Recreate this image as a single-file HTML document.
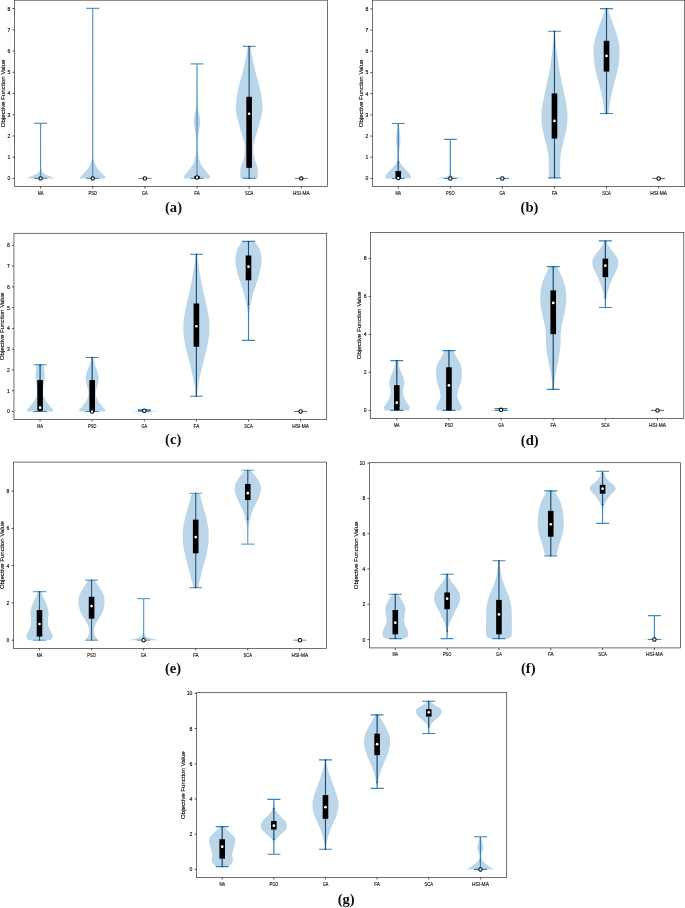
<!DOCTYPE html>
<html><head><meta charset="utf-8"><title>Violin plots</title>
<style>
html,body{margin:0;padding:0;background:#fff;}
body{width:685px;height:908px;overflow:hidden;font-family:"Liberation Sans",sans-serif;}
svg{display:block;will-change:transform;}
</style></head><body>
<svg width="685" height="908" viewBox="0 0 685 908">
<rect width="685" height="908" fill="#fff"/>
<g>
<polygon points="27.6,178.4 27.67,178.29 27.74,178.18 27.83,178.07 27.93,177.96 28.06,177.85 28.21,177.74 28.39,177.63 28.6,177.52 28.85,177.35 29.13,177.19 29.44,177.02 29.77,176.86 30.12,176.69 30.5,176.53 30.89,176.36 31.3,176.2 31.74,176 32.22,175.81 32.72,175.62 33.24,175.43 33.77,175.23 34.27,175.04 34.76,174.85 35.2,174.66 35.61,174.44 36.01,174.22 36.38,174 36.74,173.78 37.09,173.56 37.41,173.34 37.71,173.12 38,172.9 38.26,172.62 38.51,172.35 38.73,172.07 38.94,171.8 39.13,171.52 39.3,171.25 39.46,170.97 39.6,170.7 39.73,170.28 39.83,169.87 39.92,169.46 39.99,169.05 40.05,168.64 40.1,168.22 40.15,167.81 40.2,167.4 40.25,161.89 40.28,156.38 40.31,150.86 40.34,145.35 40.36,139.84 40.37,134.33 40.39,128.82 40.4,123.3 40.8,123.3 40.81,128.82 40.83,134.33 40.84,139.84 40.86,145.35 40.89,150.86 40.92,156.38 40.95,161.89 41,167.4 41.05,167.81 41.1,168.22 41.15,168.64 41.21,169.05 41.28,169.46 41.37,169.87 41.47,170.28 41.6,170.7 41.74,170.97 41.9,171.25 42.07,171.52 42.26,171.8 42.47,172.07 42.69,172.35 42.94,172.62 43.2,172.9 43.49,173.12 43.79,173.34 44.11,173.56 44.46,173.78 44.82,174 45.19,174.22 45.59,174.44 46,174.66 46.44,174.85 46.93,175.04 47.43,175.23 47.96,175.43 48.48,175.62 48.98,175.81 49.46,176 49.9,176.2 50.31,176.36 50.7,176.53 51.08,176.69 51.43,176.86 51.76,177.02 52.07,177.19 52.35,177.35 52.6,177.52 52.81,177.63 52.99,177.74 53.14,177.85 53.27,177.96 53.37,178.07 53.46,178.18 53.53,178.29 53.6,178.4" fill="#1f77b4" fill-opacity="0.3"/>
<polygon points="79.73,178.4 79.74,178.26 79.74,178.12 79.74,177.99 79.74,177.85 79.77,177.71 79.84,177.57 79.95,177.44 80.13,177.3 80.37,176.89 80.67,176.47 81.02,176.06 81.41,175.65 81.82,175.23 82.25,174.82 82.69,174.41 83.13,174 83.59,173.45 84.09,172.9 84.61,172.35 85.14,171.8 85.67,171.25 86.19,170.7 86.68,170.15 87.13,169.6 87.54,169.05 87.94,168.5 88.31,167.95 88.66,167.4 89,166.87 89.32,166.34 89.63,165.81 89.93,165.28 90.22,164.62 90.5,163.96 90.77,163.29 91.02,162.63 91.25,161.97 91.47,161.31 91.66,160.64 91.83,159.98 91.97,159.32 92.08,158.66 92.17,157.99 92.24,157.33 92.3,156.67 92.35,156 92.39,155.34 92.43,154.68 92.47,136.39 92.49,118.11 92.51,99.82 92.52,81.54 92.52,63.26 92.52,44.97 92.53,26.68 92.53,8.4 92.93,8.4 92.93,26.68 92.94,44.97 92.94,63.26 92.94,81.54 92.95,99.82 92.97,118.11 92.99,136.39 93.03,154.68 93.07,155.34 93.11,156 93.16,156.67 93.22,157.33 93.29,157.99 93.38,158.66 93.49,159.32 93.63,159.98 93.8,160.64 93.99,161.31 94.21,161.97 94.44,162.63 94.69,163.29 94.96,163.96 95.24,164.62 95.53,165.28 95.83,165.81 96.14,166.34 96.46,166.87 96.8,167.4 97.15,167.95 97.52,168.5 97.92,169.05 98.33,169.6 98.78,170.15 99.27,170.7 99.79,171.25 100.32,171.8 100.85,172.35 101.37,172.9 101.87,173.45 102.33,174 102.77,174.41 103.21,174.82 103.64,175.23 104.06,175.65 104.44,176.06 104.79,176.47 105.09,176.89 105.33,177.3 105.51,177.44 105.62,177.57 105.69,177.71 105.72,177.85 105.72,177.99 105.72,178.12 105.72,178.26 105.73,178.4" fill="#1f77b4" fill-opacity="0.3"/>
<polygon points="183.99,178.4 183.96,178.12 183.9,177.85 183.83,177.57 183.76,177.3 183.72,177.02 183.73,176.75 183.81,176.47 183.99,176.2 184.27,175.65 184.63,175.1 185.06,174.55 185.55,174 186.07,173.45 186.61,172.9 187.15,172.35 187.69,171.8 188.24,170.97 188.84,170.15 189.47,169.32 190.11,168.5 190.74,167.67 191.34,166.87 191.9,166.07 192.39,165.28 192.83,164.49 193.22,163.69 193.58,162.9 193.92,162.1 194.22,161.31 194.49,160.51 194.75,159.72 194.99,158.92 195.2,158.12 195.39,157.33 195.54,156.53 195.68,155.74 195.79,154.94 195.9,154.15 196,153.35 196.09,152.56 196.18,151.5 196.26,150.44 196.34,149.38 196.4,148.32 196.44,147.26 196.48,146.2 196.49,145.14 196.49,144.08 196.47,143.02 196.43,141.96 196.38,140.9 196.31,139.84 196.22,138.78 196.13,137.72 196.01,136.66 195.89,135.6 195.74,134.54 195.55,133.48 195.35,132.42 195.13,131.36 194.92,130.3 194.72,129.24 194.54,128.18 194.39,127.12 194.27,126.46 194.17,125.8 194.09,125.13 194.02,124.47 193.96,123.81 193.92,123.15 193.9,122.48 193.89,121.82 193.9,121.16 193.92,120.5 193.96,119.83 194.02,119.17 194.09,118.51 194.17,117.84 194.27,117.18 194.39,116.52 194.54,115.46 194.71,114.4 194.91,113.34 195.13,112.28 195.34,111.22 195.55,110.16 195.73,109.1 195.89,108.04 196.02,106.98 196.13,105.92 196.23,104.86 196.32,103.8 196.4,102.74 196.47,101.68 196.53,100.62 196.59,99.56 196.64,95.11 196.68,90.66 196.71,86.2 196.73,81.75 196.75,77.3 196.77,72.85 196.78,68.4 196.79,63.94 197.19,63.94 197.2,68.4 197.21,72.85 197.23,77.3 197.25,81.75 197.27,86.2 197.3,90.66 197.34,95.11 197.39,99.56 197.45,100.62 197.51,101.68 197.58,102.74 197.66,103.8 197.75,104.86 197.85,105.92 197.96,106.98 198.09,108.04 198.25,109.1 198.43,110.16 198.64,111.22 198.85,112.28 199.07,113.34 199.27,114.4 199.44,115.46 199.59,116.52 199.71,117.18 199.81,117.84 199.89,118.51 199.97,119.17 200.02,119.83 200.06,120.5 200.08,121.16 200.09,121.82 200.08,122.48 200.06,123.15 200.02,123.81 199.97,124.47 199.89,125.13 199.81,125.8 199.71,126.46 199.59,127.12 199.44,128.18 199.26,129.24 199.06,130.3 198.85,131.36 198.63,132.42 198.43,133.48 198.24,134.54 198.09,135.6 197.97,136.66 197.85,137.72 197.76,138.78 197.67,139.84 197.6,140.9 197.55,141.96 197.51,143.02 197.49,144.08 197.49,145.14 197.5,146.2 197.54,147.26 197.58,148.32 197.64,149.38 197.72,150.44 197.8,151.5 197.89,152.56 197.98,153.35 198.08,154.15 198.19,154.94 198.3,155.74 198.44,156.53 198.59,157.33 198.78,158.12 198.99,158.92 199.23,159.72 199.49,160.51 199.76,161.31 200.06,162.1 200.4,162.9 200.76,163.69 201.15,164.49 201.59,165.28 202.08,166.07 202.64,166.87 203.24,167.67 203.87,168.5 204.51,169.32 205.14,170.15 205.74,170.97 206.29,171.8 206.83,172.35 207.37,172.9 207.91,173.45 208.43,174 208.92,174.55 209.35,175.1 209.71,175.65 209.99,176.2 210.17,176.47 210.25,176.75 210.26,177.02 210.22,177.3 210.15,177.57 210.08,177.85 210.02,178.12 209.99,178.4" fill="#1f77b4" fill-opacity="0.3"/>
<polygon points="240.62,178.4 240.59,178.12 240.55,177.85 240.49,177.57 240.44,177.3 240.39,177.02 240.35,176.75 240.32,176.47 240.32,176.2 240.33,175.15 240.34,174.11 240.35,173.06 240.38,172.02 240.44,170.97 240.52,169.93 240.65,168.88 240.82,167.84 241.06,166.71 241.37,165.6 241.73,164.49 242.12,163.37 242.51,162.26 242.89,161.15 243.23,160.03 243.52,158.92 243.76,157.99 243.99,157.06 244.19,156.14 244.37,155.21 244.53,154.28 244.65,153.35 244.75,152.43 244.82,151.5 244.87,150.55 244.91,149.59 244.93,148.64 244.92,147.68 244.86,146.73 244.75,145.78 244.58,144.82 244.32,143.87 243.96,141.88 243.5,139.89 242.97,137.91 242.38,135.92 241.77,133.93 241.16,131.94 240.56,129.96 240.02,127.97 239.49,125.95 238.93,123.94 238.36,121.93 237.81,119.91 237.29,117.9 236.82,115.88 236.42,113.87 236.12,111.86 235.91,110.85 235.77,109.84 235.69,108.83 235.68,107.83 235.71,106.82 235.78,105.81 235.89,104.81 236.02,103.8 236.19,101.81 236.4,99.83 236.65,97.84 236.94,95.85 237.27,93.86 237.63,91.88 238.01,89.89 238.42,87.9 238.87,85.91 239.39,83.92 239.94,81.94 240.52,79.95 241.1,77.96 241.68,75.98 242.22,73.99 242.72,72 243.18,70.14 243.63,68.29 244.07,66.44 244.49,64.58 244.89,62.73 245.26,60.87 245.6,59.02 245.92,57.16 246.21,55.81 246.47,54.46 246.71,53.11 246.92,51.75 247.11,50.4 247.27,49.05 247.41,47.7 247.52,46.35 250.72,46.35 250.83,47.7 250.97,49.05 251.13,50.4 251.32,51.75 251.53,53.11 251.77,54.46 252.03,55.81 252.32,57.16 252.64,59.02 252.98,60.87 253.35,62.73 253.75,64.58 254.17,66.44 254.61,68.29 255.06,70.14 255.52,72 256.02,73.99 256.56,75.98 257.14,77.96 257.72,79.95 258.3,81.94 258.85,83.92 259.37,85.91 259.82,87.9 260.23,89.89 260.61,91.88 260.97,93.86 261.3,95.85 261.59,97.84 261.84,99.83 262.05,101.81 262.22,103.8 262.35,104.81 262.46,105.81 262.53,106.82 262.56,107.83 262.55,108.83 262.47,109.84 262.33,110.85 262.12,111.86 261.82,113.87 261.42,115.88 260.95,117.9 260.43,119.91 259.88,121.93 259.31,123.94 258.75,125.95 258.22,127.97 257.68,129.96 257.08,131.94 256.47,133.93 255.86,135.92 255.27,137.91 254.74,139.89 254.28,141.88 253.92,143.87 253.66,144.82 253.49,145.78 253.38,146.73 253.32,147.68 253.31,148.64 253.33,149.59 253.37,150.55 253.42,151.5 253.49,152.43 253.59,153.35 253.71,154.28 253.87,155.21 254.05,156.14 254.25,157.06 254.48,157.99 254.72,158.92 255.01,160.03 255.35,161.15 255.73,162.26 256.12,163.37 256.51,164.49 256.87,165.6 257.18,166.71 257.42,167.84 257.59,168.88 257.72,169.93 257.8,170.97 257.86,172.02 257.89,173.06 257.9,174.11 257.91,175.15 257.92,176.2 257.92,176.47 257.89,176.75 257.85,177.02 257.8,177.3 257.75,177.57 257.69,177.85 257.65,178.12 257.62,178.4" fill="#1f77b4" fill-opacity="0.3"/>
<path d="M40.6 123.3V178.4M34.1 123.3H47.1M34.1 178.4H47.1" stroke="#1f77b4" stroke-width="1.15" fill="none" stroke-opacity="0.75"/>
<path d="M92.73 8.4V178.4M86.23 8.4H99.23M86.23 178.4H99.23" stroke="#1f77b4" stroke-width="1.15" fill="none" stroke-opacity="0.75"/>
<path d="M138.36 178.4H151.36" stroke="#1f77b4" stroke-width="1.15" fill="none" stroke-opacity="0.75"/>
<path d="M196.99 63.94V178.4M190.49 63.94H203.49M190.49 178.4H203.49" stroke="#1f77b4" stroke-width="1.15" fill="none" stroke-opacity="0.75"/>
<path d="M249.12 46.35V178.4M242.62 46.35H255.62M242.62 178.4H255.62" stroke="#1f77b4" stroke-width="1.15" fill="none" stroke-opacity="0.75"/>
<path d="M294.75 178.4H307.75" stroke="#1f77b4" stroke-width="1.15" fill="none" stroke-opacity="0.75"/>
<circle cx="40.6" cy="178.4" r="1.7" fill="#fff" stroke="#000" stroke-width="1.05"/>
<circle cx="92.73" cy="178.4" r="1.7" fill="#fff" stroke="#000" stroke-width="1.05"/>
<circle cx="144.86" cy="178.4" r="1.7" fill="#fff" stroke="#000" stroke-width="1.05"/>
<path d="M196.99 178.4V176.2M195.99 178.4h2M195.99 176.2h2" stroke="#000" stroke-width="0.55" stroke-opacity="0.75" fill="none"/>
<rect x="194.19" y="176.2" width="5.6" height="2.2" fill="#000"/>
<circle cx="196.99" cy="177.52" r="1.7" fill="#fff" stroke="#000" stroke-width="1.05"/>
<path d="M249.12 178.4V46.35M248.12 178.4h2M248.12 46.35h2" stroke="#000" stroke-width="0.55" stroke-opacity="0.75" fill="none"/>
<rect x="246.32" y="96.8" width="5.6" height="71.04" fill="#000"/>
<circle cx="249.12" cy="113.76" r="1.35" fill="#fff"/>
<circle cx="301.25" cy="178.4" r="1.7" fill="#fff" stroke="#000" stroke-width="1.05"/>
<rect x="14.5" y="0.2" width="313" height="186.3" fill="none" stroke="#333333" stroke-width="0.7"/>
<path d="M14.5 178.4h-2M14.5 157.17h-2M14.5 135.94h-2M14.5 114.71h-2M14.5 93.48h-2M14.5 72.25h-2M14.5 51.02h-2M14.5 29.79h-2M14.5 8.56h-2M40.6 186.5v2M92.73 186.5v2M144.86 186.5v2M196.99 186.5v2M249.12 186.5v2M301.25 186.5v2" stroke="#222" stroke-width="0.75" fill="none"/>
<g transform="translate(7.48 180.4) scale(0.1)"><text x="0" y="0" font-family="'Liberation Sans', sans-serif" font-size="60" textLength="28.2" lengthAdjust="spacingAndGlyphs" fill="#111" stroke="#111" stroke-width="1.6">0</text></g>
<g transform="translate(7.48 159.17) scale(0.1)"><text x="0" y="0" font-family="'Liberation Sans', sans-serif" font-size="60" textLength="28.2" lengthAdjust="spacingAndGlyphs" fill="#111" stroke="#111" stroke-width="1.6">1</text></g>
<g transform="translate(7.48 137.94) scale(0.1)"><text x="0" y="0" font-family="'Liberation Sans', sans-serif" font-size="60" textLength="28.2" lengthAdjust="spacingAndGlyphs" fill="#111" stroke="#111" stroke-width="1.6">2</text></g>
<g transform="translate(7.48 116.71) scale(0.1)"><text x="0" y="0" font-family="'Liberation Sans', sans-serif" font-size="60" textLength="28.2" lengthAdjust="spacingAndGlyphs" fill="#111" stroke="#111" stroke-width="1.6">3</text></g>
<g transform="translate(7.48 95.48) scale(0.1)"><text x="0" y="0" font-family="'Liberation Sans', sans-serif" font-size="60" textLength="28.2" lengthAdjust="spacingAndGlyphs" fill="#111" stroke="#111" stroke-width="1.6">4</text></g>
<g transform="translate(7.48 74.25) scale(0.1)"><text x="0" y="0" font-family="'Liberation Sans', sans-serif" font-size="60" textLength="28.2" lengthAdjust="spacingAndGlyphs" fill="#111" stroke="#111" stroke-width="1.6">5</text></g>
<g transform="translate(7.48 53.02) scale(0.1)"><text x="0" y="0" font-family="'Liberation Sans', sans-serif" font-size="60" textLength="28.2" lengthAdjust="spacingAndGlyphs" fill="#111" stroke="#111" stroke-width="1.6">6</text></g>
<g transform="translate(7.48 31.79) scale(0.1)"><text x="0" y="0" font-family="'Liberation Sans', sans-serif" font-size="60" textLength="28.2" lengthAdjust="spacingAndGlyphs" fill="#111" stroke="#111" stroke-width="1.6">7</text></g>
<g transform="translate(7.48 10.56) scale(0.1)"><text x="0" y="0" font-family="'Liberation Sans', sans-serif" font-size="60" textLength="28.2" lengthAdjust="spacingAndGlyphs" fill="#111" stroke="#111" stroke-width="1.6">8</text></g>
<g transform="translate(37.78 194.6) scale(0.1)"><text x="0" y="0" font-family="'Liberation Sans', sans-serif" font-size="60" textLength="56.4" lengthAdjust="spacingAndGlyphs" fill="#111" stroke="#111" stroke-width="1.6">MA</text></g>
<g transform="translate(88.5 194.6) scale(0.1)"><text x="0" y="0" font-family="'Liberation Sans', sans-serif" font-size="60" textLength="84.6" lengthAdjust="spacingAndGlyphs" fill="#111" stroke="#111" stroke-width="1.6">PSO</text></g>
<g transform="translate(142.04 194.6) scale(0.1)"><text x="0" y="0" font-family="'Liberation Sans', sans-serif" font-size="60" textLength="56.4" lengthAdjust="spacingAndGlyphs" fill="#111" stroke="#111" stroke-width="1.6">GA</text></g>
<g transform="translate(194.17 194.6) scale(0.1)"><text x="0" y="0" font-family="'Liberation Sans', sans-serif" font-size="60" textLength="56.4" lengthAdjust="spacingAndGlyphs" fill="#111" stroke="#111" stroke-width="1.6">FA</text></g>
<g transform="translate(244.89 194.6) scale(0.1)"><text x="0" y="0" font-family="'Liberation Sans', sans-serif" font-size="60" textLength="84.6" lengthAdjust="spacingAndGlyphs" fill="#111" stroke="#111" stroke-width="1.6">SCA</text></g>
<g transform="translate(292.79 194.6) scale(0.1)"><text x="0" y="0" font-family="'Liberation Sans', sans-serif" font-size="60" textLength="169.2" lengthAdjust="spacingAndGlyphs" fill="#111" stroke="#111" stroke-width="1.6">HSI-MA</text></g>
<g transform="translate(4.9 93.35) rotate(-90)"><g transform="translate(-33.84 0) scale(0.1)"><text x="0" y="0" font-family="'Liberation Sans', sans-serif" font-size="60" textLength="676.8" lengthAdjust="spacingAndGlyphs" fill="#111" stroke="#111" stroke-width="1.6">Objective Function Value</text></g></g>
<text x="173.5" y="212.1" text-anchor="middle" font-family="'Liberation Serif', serif" font-weight="bold" font-size="14.6" fill="#111">(a)</text>
</g>
<g>
<polygon points="385.75,178.45 385.7,178.29 385.62,178.12 385.52,177.96 385.41,177.8 385.32,177.64 385.25,177.47 385.23,177.31 385.25,177.15 385.32,176.77 385.43,176.39 385.57,176.01 385.73,175.63 385.92,175.25 386.14,174.87 386.39,174.49 386.65,174.11 386.95,173.7 387.29,173.3 387.66,172.89 388.05,172.48 388.45,172.08 388.86,171.67 389.26,171.26 389.65,170.85 390.03,170.45 390.41,170.04 390.79,169.63 391.18,169.23 391.55,168.82 391.93,168.41 392.29,168.01 392.65,167.6 393,167.2 393.35,166.8 393.7,166.41 394.04,166.01 394.37,165.61 394.68,165.21 394.98,164.82 395.25,164.42 395.5,164.02 395.74,163.62 395.96,163.23 396.17,162.83 396.36,162.43 396.54,162.03 396.7,161.64 396.85,161.24 396.99,160.44 397.12,159.65 397.24,158.85 397.34,158.06 397.42,157.26 397.49,156.47 397.53,155.67 397.55,154.88 397.54,154.08 397.5,153.29 397.44,152.5 397.36,151.7 397.26,150.9 397.16,150.11 397.05,149.31 396.95,148.52 396.83,147.46 396.69,146.4 396.53,145.34 396.36,144.28 396.21,143.22 396.08,142.16 395.99,141.1 395.95,140.04 395.96,138.98 396.02,137.92 396.11,136.86 396.23,135.8 396.36,134.74 396.5,133.68 396.63,132.62 396.75,131.56 396.86,130.55 396.99,129.55 397.12,128.54 397.25,127.53 397.37,126.52 397.49,125.52 397.58,124.51 397.65,123.5 398.85,123.5 398.92,124.51 399.01,125.52 399.13,126.52 399.25,127.53 399.38,128.54 399.51,129.55 399.64,130.55 399.75,131.56 399.87,132.62 400,133.68 400.14,134.74 400.27,135.8 400.39,136.86 400.48,137.92 400.54,138.98 400.55,140.04 400.51,141.1 400.42,142.16 400.29,143.22 400.14,144.28 399.97,145.34 399.81,146.4 399.67,147.46 399.55,148.52 399.45,149.31 399.34,150.11 399.24,150.9 399.14,151.7 399.06,152.5 399,153.29 398.96,154.08 398.95,154.88 398.97,155.67 399.01,156.47 399.08,157.26 399.16,158.06 399.26,158.85 399.38,159.65 399.51,160.44 399.65,161.24 399.8,161.64 399.96,162.03 400.14,162.43 400.33,162.83 400.54,163.23 400.76,163.62 401,164.02 401.25,164.42 401.52,164.82 401.82,165.21 402.13,165.61 402.46,166.01 402.8,166.41 403.15,166.8 403.5,167.2 403.85,167.6 404.21,168.01 404.57,168.41 404.95,168.82 405.32,169.23 405.71,169.63 406.09,170.04 406.47,170.45 406.85,170.85 407.24,171.26 407.64,171.67 408.05,172.08 408.45,172.48 408.84,172.89 409.21,173.3 409.55,173.7 409.85,174.11 410.11,174.49 410.36,174.87 410.58,175.25 410.77,175.63 410.93,176.01 411.07,176.39 411.18,176.77 411.25,177.15 411.27,177.31 411.25,177.47 411.18,177.64 411.09,177.8 410.98,177.96 410.88,178.12 410.8,178.29 410.75,178.45" fill="#1f77b4" fill-opacity="0.3"/>
<polygon points="437.32,178.45 437.53,178.37 437.79,178.29 438.09,178.21 438.44,178.12 438.84,178.04 439.29,177.96 439.78,177.88 440.32,177.8 440.95,177.66 441.68,177.53 442.48,177.39 443.32,177.26 444.16,177.12 444.96,176.99 445.69,176.85 446.32,176.71 446.85,176.52 447.33,176.33 447.77,176.14 448.15,175.95 448.5,175.76 448.8,175.57 449.08,175.38 449.32,175.19 449.52,174.79 449.67,174.38 449.78,173.97 449.85,173.57 449.9,173.16 449.94,172.75 449.98,172.35 450.02,171.94 450.06,167.79 450.09,163.73 450.11,159.68 450.11,155.62 450.12,151.57 450.12,147.51 450.12,143.46 450.12,139.4 450.52,139.4 450.52,143.46 450.52,147.51 450.52,151.57 450.53,155.62 450.53,159.68 450.55,163.73 450.58,167.79 450.62,171.94 450.66,172.35 450.7,172.75 450.74,173.16 450.79,173.57 450.86,173.97 450.97,174.38 451.12,174.79 451.32,175.19 451.56,175.38 451.84,175.57 452.14,175.76 452.49,175.95 452.87,176.14 453.31,176.33 453.79,176.52 454.32,176.71 454.95,176.85 455.68,176.99 456.48,177.12 457.32,177.26 458.16,177.39 458.96,177.53 459.69,177.66 460.32,177.8 460.86,177.88 461.35,177.96 461.8,178.04 462.19,178.12 462.55,178.21 462.85,178.29 463.11,178.37 463.32,178.45" fill="#1f77b4" fill-opacity="0.3"/>
<polygon points="548.86,177.8 548.86,176.52 548.87,175.25 548.88,173.97 548.88,172.7 548.89,171.42 548.89,170.15 548.88,168.87 548.86,167.6 548.84,166.27 548.82,164.95 548.8,163.62 548.77,162.3 548.73,160.97 548.67,159.65 548.58,158.32 548.46,157 548.31,155.67 548.13,154.35 547.93,153.02 547.7,151.7 547.46,150.38 547.21,149.05 546.94,147.72 546.66,146.4 546.36,145.07 546.03,143.75 545.69,142.42 545.33,141.1 544.97,139.77 544.61,138.45 544.27,137.12 543.96,135.8 543.66,134.47 543.35,133.15 543.05,131.82 542.77,130.5 542.5,129.17 542.25,127.85 542.04,126.52 541.86,125.2 541.72,124.22 541.62,123.24 541.54,122.26 541.49,121.28 541.46,120.3 541.45,119.32 541.45,118.34 541.46,117.36 541.47,116.22 541.49,115.08 541.52,113.94 541.56,112.8 541.63,111.66 541.73,110.52 541.87,109.38 542.06,108.24 542.29,106.38 542.57,104.53 542.88,102.67 543.23,100.82 543.6,98.96 544,97.11 544.42,95.25 544.86,93.4 545.33,90.75 545.86,88.1 546.42,85.45 546.99,82.8 547.57,80.15 548.13,77.5 548.67,74.85 549.16,72.2 549.62,69.55 550.05,66.9 550.48,64.25 550.88,61.6 551.26,58.95 551.62,56.3 551.95,53.65 552.26,51 552.54,48.54 552.8,46.07 553.04,43.61 553.25,41.14 553.44,38.68 553.61,36.21 553.75,33.75 553.86,31.28 555.06,31.28 555.17,33.75 555.31,36.21 555.48,38.68 555.67,41.14 555.88,43.61 556.12,46.07 556.38,48.54 556.66,51 556.97,53.65 557.3,56.3 557.66,58.95 558.04,61.6 558.44,64.25 558.87,66.9 559.3,69.55 559.76,72.2 560.25,74.85 560.79,77.5 561.35,80.15 561.93,82.8 562.5,85.45 563.06,88.1 563.59,90.75 564.06,93.4 564.5,95.25 564.92,97.11 565.32,98.96 565.69,100.82 566.04,102.67 566.35,104.53 566.63,106.38 566.86,108.24 567.05,109.38 567.19,110.52 567.29,111.66 567.36,112.8 567.4,113.94 567.43,115.08 567.45,116.22 567.46,117.36 567.47,118.34 567.47,119.32 567.46,120.3 567.43,121.28 567.38,122.26 567.3,123.24 567.2,124.22 567.06,125.2 566.88,126.52 566.67,127.85 566.42,129.17 566.15,130.5 565.87,131.82 565.57,133.15 565.26,134.47 564.96,135.8 564.65,137.12 564.31,138.45 563.95,139.77 563.59,141.1 563.23,142.42 562.89,143.75 562.56,145.07 562.26,146.4 561.98,147.72 561.71,149.05 561.46,150.38 561.22,151.7 560.99,153.02 560.79,154.35 560.61,155.67 560.46,157 560.34,158.32 560.25,159.65 560.19,160.97 560.15,162.3 560.12,163.62 560.1,164.95 560.08,166.27 560.06,167.6 560.04,168.87 560.03,170.15 560.03,171.42 560.04,172.7 560.04,173.97 560.05,175.25 560.06,176.52 560.06,177.8" fill="#1f77b4" fill-opacity="0.3"/>
<polygon points="604.33,113.54 604.23,112.08 604.11,110.62 603.96,109.17 603.79,107.71 603.6,106.25 603.4,104.79 603.17,103.34 602.93,101.88 602.67,100.29 602.38,98.7 602.08,97.11 601.75,95.52 601.42,93.93 601.06,92.34 600.7,90.75 600.33,89.16 599.94,87.57 599.52,85.98 599.08,84.39 598.63,82.8 598.18,81.21 597.74,79.62 597.32,78.03 596.93,76.44 596.55,74.85 596.18,73.26 595.82,71.67 595.47,70.08 595.14,68.49 594.83,66.9 594.56,65.31 594.33,63.72 594.13,62.32 593.97,60.91 593.83,59.51 593.72,58.1 593.63,56.7 593.58,55.29 593.54,53.89 593.53,52.48 593.54,51.24 593.57,49.99 593.62,48.75 593.7,47.5 593.81,46.26 593.95,45.01 594.12,43.77 594.33,42.52 594.58,41.19 594.87,39.87 595.19,38.54 595.54,37.22 595.92,35.89 596.31,34.57 596.72,33.24 597.13,31.92 597.56,30.59 598,29.27 598.47,27.94 598.95,26.62 599.45,25.29 599.94,23.97 600.44,22.64 600.93,21.32 601.45,19.73 602.01,18.14 602.59,16.55 603.17,14.96 603.71,13.37 604.21,11.78 604.62,10.19 604.93,8.6 608.13,8.6 608.44,10.19 608.85,11.78 609.35,13.37 609.89,14.96 610.47,16.55 611.05,18.14 611.61,19.73 612.13,21.32 612.62,22.64 613.12,23.97 613.61,25.29 614.11,26.62 614.59,27.94 615.05,29.27 615.5,30.59 615.93,31.92 616.34,33.24 616.75,34.57 617.14,35.89 617.52,37.22 617.87,38.54 618.19,39.87 618.48,41.19 618.73,42.52 618.94,43.77 619.11,45.01 619.25,46.26 619.36,47.5 619.44,48.75 619.49,49.99 619.52,51.24 619.53,52.48 619.52,53.89 619.48,55.29 619.43,56.7 619.34,58.1 619.23,59.51 619.09,60.91 618.93,62.32 618.73,63.72 618.5,65.31 618.23,66.9 617.92,68.49 617.59,70.08 617.24,71.67 616.88,73.26 616.51,74.85 616.13,76.44 615.74,78.03 615.32,79.62 614.88,81.21 614.43,82.8 613.98,84.39 613.54,85.98 613.12,87.57 612.73,89.16 612.36,90.75 612,92.34 611.64,93.93 611.3,95.52 610.98,97.11 610.68,98.7 610.39,100.29 610.13,101.88 609.89,103.34 609.66,104.79 609.46,106.25 609.27,107.71 609.1,109.17 608.95,110.62 608.83,112.08 608.73,113.54" fill="#1f77b4" fill-opacity="0.3"/>
<path d="M398.25 123.5V178.45M391.75 123.5H404.75M391.75 178.45H404.75" stroke="#1f77b4" stroke-width="1.15" fill="none" stroke-opacity="0.88"/>
<path d="M450.32 139.4V178.45M443.82 139.4H456.82M443.82 178.45H456.82" stroke="#1f77b4" stroke-width="1.15" fill="none" stroke-opacity="0.88"/>
<path d="M495.89 178.45H508.89" stroke="#1f77b4" stroke-width="1.15" fill="none" stroke-opacity="0.88"/>
<path d="M554.46 31.28V177.8M547.96 31.28H560.96M547.96 177.8H560.96" stroke="#1f77b4" stroke-width="1.15" fill="none" stroke-opacity="0.88"/>
<path d="M606.53 8.6V113.54M600.03 8.6H613.03M600.03 113.54H613.03" stroke="#1f77b4" stroke-width="1.15" fill="none" stroke-opacity="0.88"/>
<path d="M652.1 178.45H665.1" stroke="#1f77b4" stroke-width="1.15" fill="none" stroke-opacity="0.88"/>
<path d="M398.25 178.45V162.09M397.25 178.45h2M397.25 162.09h2" stroke="#000" stroke-width="0.55" stroke-opacity="0.75" fill="none"/>
<rect x="395.45" y="171.07" width="5.6" height="7.38" fill="#000"/>
<circle cx="398.25" cy="178.02" r="1.7" fill="#fff" stroke="#000" stroke-width="1.05"/>
<circle cx="450.32" cy="178.45" r="1.7" fill="#fff" stroke="#000" stroke-width="1.05"/>
<circle cx="502.39" cy="178.45" r="1.7" fill="#fff" stroke="#000" stroke-width="1.05"/>
<path d="M554.46 177.8V31.28M553.46 177.8h2M553.46 31.28h2" stroke="#000" stroke-width="0.55" stroke-opacity="0.75" fill="none"/>
<rect x="551.66" y="93.4" width="5.6" height="45.16" fill="#000"/>
<circle cx="554.46" cy="120.96" r="1.35" fill="#fff"/>
<path d="M606.53 113.54V8.6M605.53 113.54h2M605.53 8.6h2" stroke="#000" stroke-width="0.55" stroke-opacity="0.75" fill="none"/>
<rect x="603.73" y="40.82" width="5.6" height="30.74" fill="#000"/>
<circle cx="606.53" cy="55.88" r="1.35" fill="#fff"/>
<circle cx="658.6" cy="178.45" r="1.7" fill="#fff" stroke="#000" stroke-width="1.05"/>
<rect x="372.4" y="0.2" width="312.3" height="186.3" fill="none" stroke="#333333" stroke-width="0.7"/>
<path d="M372.4 178.45h-2M372.4 157.25h-2M372.4 136.05h-2M372.4 114.85h-2M372.4 93.65h-2M372.4 72.45h-2M372.4 51.25h-2M372.4 30.05h-2M372.4 8.85h-2M398.25 186.5v2M450.32 186.5v2M502.39 186.5v2M554.46 186.5v2M606.53 186.5v2M658.6 186.5v2" stroke="#222" stroke-width="0.75" fill="none"/>
<g transform="translate(365.38 180.45) scale(0.1)"><text x="0" y="0" font-family="'Liberation Sans', sans-serif" font-size="60" textLength="28.2" lengthAdjust="spacingAndGlyphs" fill="#111" stroke="#111" stroke-width="1.6">0</text></g>
<g transform="translate(365.38 159.25) scale(0.1)"><text x="0" y="0" font-family="'Liberation Sans', sans-serif" font-size="60" textLength="28.2" lengthAdjust="spacingAndGlyphs" fill="#111" stroke="#111" stroke-width="1.6">1</text></g>
<g transform="translate(365.38 138.05) scale(0.1)"><text x="0" y="0" font-family="'Liberation Sans', sans-serif" font-size="60" textLength="28.2" lengthAdjust="spacingAndGlyphs" fill="#111" stroke="#111" stroke-width="1.6">2</text></g>
<g transform="translate(365.38 116.85) scale(0.1)"><text x="0" y="0" font-family="'Liberation Sans', sans-serif" font-size="60" textLength="28.2" lengthAdjust="spacingAndGlyphs" fill="#111" stroke="#111" stroke-width="1.6">3</text></g>
<g transform="translate(365.38 95.65) scale(0.1)"><text x="0" y="0" font-family="'Liberation Sans', sans-serif" font-size="60" textLength="28.2" lengthAdjust="spacingAndGlyphs" fill="#111" stroke="#111" stroke-width="1.6">4</text></g>
<g transform="translate(365.38 74.45) scale(0.1)"><text x="0" y="0" font-family="'Liberation Sans', sans-serif" font-size="60" textLength="28.2" lengthAdjust="spacingAndGlyphs" fill="#111" stroke="#111" stroke-width="1.6">5</text></g>
<g transform="translate(365.38 53.25) scale(0.1)"><text x="0" y="0" font-family="'Liberation Sans', sans-serif" font-size="60" textLength="28.2" lengthAdjust="spacingAndGlyphs" fill="#111" stroke="#111" stroke-width="1.6">6</text></g>
<g transform="translate(365.38 32.05) scale(0.1)"><text x="0" y="0" font-family="'Liberation Sans', sans-serif" font-size="60" textLength="28.2" lengthAdjust="spacingAndGlyphs" fill="#111" stroke="#111" stroke-width="1.6">7</text></g>
<g transform="translate(365.38 10.85) scale(0.1)"><text x="0" y="0" font-family="'Liberation Sans', sans-serif" font-size="60" textLength="28.2" lengthAdjust="spacingAndGlyphs" fill="#111" stroke="#111" stroke-width="1.6">8</text></g>
<g transform="translate(395.43 194.6) scale(0.1)"><text x="0" y="0" font-family="'Liberation Sans', sans-serif" font-size="60" textLength="56.4" lengthAdjust="spacingAndGlyphs" fill="#111" stroke="#111" stroke-width="1.6">MA</text></g>
<g transform="translate(446.09 194.6) scale(0.1)"><text x="0" y="0" font-family="'Liberation Sans', sans-serif" font-size="60" textLength="84.6" lengthAdjust="spacingAndGlyphs" fill="#111" stroke="#111" stroke-width="1.6">PSO</text></g>
<g transform="translate(499.57 194.6) scale(0.1)"><text x="0" y="0" font-family="'Liberation Sans', sans-serif" font-size="60" textLength="56.4" lengthAdjust="spacingAndGlyphs" fill="#111" stroke="#111" stroke-width="1.6">GA</text></g>
<g transform="translate(551.64 194.6) scale(0.1)"><text x="0" y="0" font-family="'Liberation Sans', sans-serif" font-size="60" textLength="56.4" lengthAdjust="spacingAndGlyphs" fill="#111" stroke="#111" stroke-width="1.6">FA</text></g>
<g transform="translate(602.3 194.6) scale(0.1)"><text x="0" y="0" font-family="'Liberation Sans', sans-serif" font-size="60" textLength="84.6" lengthAdjust="spacingAndGlyphs" fill="#111" stroke="#111" stroke-width="1.6">SCA</text></g>
<g transform="translate(650.14 194.6) scale(0.1)"><text x="0" y="0" font-family="'Liberation Sans', sans-serif" font-size="60" textLength="169.2" lengthAdjust="spacingAndGlyphs" fill="#111" stroke="#111" stroke-width="1.6">HSI-MA</text></g>
<g transform="translate(362.8 93.35) rotate(-90)"><g transform="translate(-33.84 0) scale(0.1)"><text x="0" y="0" font-family="'Liberation Sans', sans-serif" font-size="60" textLength="676.8" lengthAdjust="spacingAndGlyphs" fill="#111" stroke="#111" stroke-width="1.6">Objective Function Value</text></g></g>
<text x="529.5" y="212" text-anchor="middle" font-family="'Liberation Serif', serif" font-weight="bold" font-size="14.6" fill="#111">(b)</text>
</g>
<g>
<polygon points="27.6,411.45 27.54,411.28 27.44,411.12 27.32,410.95 27.2,410.78 27.1,410.62 27.03,410.45 27.03,410.28 27.1,410.12 27.25,409.73 27.47,409.34 27.73,408.95 28.04,408.56 28.38,408.18 28.75,407.79 29.12,407.4 29.5,407.01 29.9,406.46 30.34,405.9 30.81,405.35 31.29,404.79 31.77,404.24 32.24,403.69 32.69,403.13 33.1,402.58 33.48,402.03 33.85,401.48 34.2,400.92 34.54,400.37 34.86,399.85 35.16,399.34 35.44,398.82 35.7,398.3 35.94,397.73 36.17,397.16 36.38,396.59 36.58,396.02 36.74,395.45 36.89,394.88 37.01,394.32 37.1,393.75 37.16,393.02 37.18,392.3 37.18,391.57 37.15,390.85 37.1,390.12 37.04,389.4 36.97,388.67 36.9,387.95 36.81,387.17 36.69,386.4 36.56,385.62 36.41,384.85 36.27,384.07 36.13,383.29 36,382.52 35.9,381.74 35.82,380.89 35.74,380.03 35.67,379.18 35.61,378.32 35.56,377.47 35.52,376.62 35.5,375.76 35.5,374.91 35.52,374.21 35.56,373.51 35.61,372.81 35.68,372.11 35.76,371.42 35.84,370.72 35.92,370.02 36,369.32 36.08,368.75 36.18,368.18 36.28,367.61 36.38,367.04 36.48,366.47 36.57,365.9 36.64,365.34 36.7,364.77 43.5,364.77 43.56,365.34 43.63,365.9 43.72,366.47 43.82,367.04 43.92,367.61 44.02,368.18 44.12,368.75 44.2,369.32 44.28,370.02 44.36,370.72 44.44,371.42 44.52,372.11 44.59,372.81 44.64,373.51 44.68,374.21 44.7,374.91 44.7,375.76 44.68,376.62 44.64,377.47 44.59,378.32 44.53,379.18 44.46,380.03 44.38,380.89 44.3,381.74 44.2,382.52 44.07,383.29 43.93,384.07 43.79,384.85 43.64,385.62 43.51,386.4 43.39,387.17 43.3,387.95 43.23,388.67 43.16,389.4 43.1,390.12 43.05,390.85 43.02,391.57 43.02,392.3 43.04,393.02 43.1,393.75 43.19,394.32 43.31,394.88 43.46,395.45 43.62,396.02 43.82,396.59 44.03,397.16 44.26,397.73 44.5,398.3 44.76,398.82 45.04,399.34 45.34,399.85 45.66,400.37 46,400.92 46.35,401.48 46.72,402.03 47.1,402.58 47.51,403.13 47.96,403.69 48.43,404.24 48.91,404.79 49.39,405.35 49.86,405.9 50.3,406.46 50.7,407.01 51.08,407.4 51.45,407.79 51.82,408.18 52.16,408.56 52.47,408.95 52.73,409.34 52.95,409.73 53.1,410.12 53.17,410.28 53.17,410.45 53.1,410.62 53,410.78 52.88,410.95 52.76,411.12 52.66,411.28 52.6,411.45" fill="#1f77b4" fill-opacity="0.3"/>
<polygon points="79.7,411.45 79.64,411.28 79.54,411.12 79.42,410.95 79.3,410.78 79.2,410.62 79.13,410.45 79.13,410.28 79.2,410.12 79.35,409.73 79.57,409.34 79.83,408.95 80.14,408.56 80.48,408.18 80.85,407.79 81.22,407.4 81.6,407.01 82,406.46 82.44,405.9 82.91,405.35 83.4,404.79 83.89,404.24 84.36,403.69 84.8,403.13 85.2,402.58 85.57,402.03 85.92,401.48 86.25,400.92 86.56,400.37 86.86,399.85 87.13,399.34 87.38,398.82 87.6,398.3 87.8,397.78 87.98,397.27 88.14,396.75 88.28,396.23 88.39,395.71 88.48,395.2 88.55,394.68 88.6,394.16 88.63,393.64 88.63,393.12 88.61,392.61 88.58,392.09 88.51,391.57 88.43,391.06 88.33,390.54 88.2,390.02 88.03,389.24 87.82,388.47 87.58,387.69 87.32,386.92 87.06,386.14 86.81,385.36 86.58,384.59 86.4,383.81 86.25,383.03 86.1,382.26 85.97,381.48 85.86,380.71 85.77,379.93 85.71,379.15 85.68,378.38 85.7,377.6 85.76,376.82 85.86,376.05 85.99,375.27 86.16,374.5 86.34,373.72 86.55,372.94 86.77,372.17 87,371.39 87.25,370.61 87.54,369.84 87.85,369.06 88.17,368.29 88.5,367.51 88.82,366.73 89.12,365.96 89.4,365.18 89.67,364.22 89.93,363.27 90.2,362.31 90.45,361.35 90.68,360.39 90.89,359.44 91.07,358.48 91.2,357.52 93.2,357.52 93.33,358.48 93.51,359.44 93.72,360.39 93.95,361.35 94.2,362.31 94.47,363.27 94.73,364.22 95,365.18 95.28,365.96 95.58,366.73 95.9,367.51 96.23,368.29 96.55,369.06 96.86,369.84 97.15,370.61 97.4,371.39 97.63,372.17 97.85,372.94 98.06,373.72 98.24,374.5 98.41,375.27 98.54,376.05 98.64,376.82 98.7,377.6 98.72,378.38 98.69,379.15 98.63,379.93 98.54,380.71 98.43,381.48 98.3,382.26 98.15,383.03 98,383.81 97.82,384.59 97.59,385.36 97.34,386.14 97.08,386.92 96.82,387.69 96.58,388.47 96.37,389.24 96.2,390.02 96.07,390.54 95.97,391.06 95.89,391.57 95.83,392.09 95.79,392.61 95.77,393.12 95.77,393.64 95.8,394.16 95.85,394.68 95.92,395.2 96.01,395.71 96.12,396.23 96.26,396.75 96.42,397.27 96.6,397.78 96.8,398.3 97.02,398.82 97.27,399.34 97.54,399.85 97.84,400.37 98.15,400.92 98.48,401.48 98.83,402.03 99.2,402.58 99.6,403.13 100.04,403.69 100.51,404.24 101,404.79 101.49,405.35 101.96,405.9 102.4,406.46 102.8,407.01 103.18,407.4 103.55,407.79 103.92,408.18 104.26,408.56 104.57,408.95 104.83,409.34 105.05,409.73 105.2,410.12 105.27,410.28 105.27,410.45 105.2,410.62 105.1,410.78 104.98,410.95 104.86,411.12 104.76,411.28 104.7,411.45" fill="#1f77b4" fill-opacity="0.3"/>
<polygon points="131.3,411.45 131.89,411.37 132.72,411.28 133.72,411.2 134.8,411.12 135.88,411.03 136.88,410.95 137.71,410.87 138.3,410.78 138.64,410.7 138.7,410.62 138.7,410.53 138.7,410.45 138.64,410.37 138.5,410.28 138.37,410.2 138.3,410.12 138.26,410.03 138.2,409.95 138.13,409.87 138.05,409.78 137.97,409.7 137.9,409.62 137.84,409.53 137.8,409.45 150.8,409.45 150.76,409.53 150.7,409.62 150.63,409.7 150.55,409.78 150.47,409.87 150.4,409.95 150.34,410.03 150.3,410.12 150.23,410.2 150.1,410.28 149.96,410.37 149.9,410.45 149.9,410.53 149.9,410.62 149.96,410.7 150.3,410.78 150.89,410.87 151.72,410.95 152.72,411.03 153.8,411.12 154.88,411.2 155.88,411.28 156.71,411.37 157.3,411.45" fill="#1f77b4" fill-opacity="0.3"/>
<polygon points="195.8,396.23 195.69,394.68 195.55,393.12 195.38,391.57 195.19,390.02 194.97,388.47 194.74,386.92 194.48,385.36 194.2,383.81 193.9,382 193.56,380.19 193.2,378.38 192.83,376.57 192.43,374.75 192.03,372.94 191.61,371.13 191.2,369.32 190.78,367.51 190.33,365.7 189.88,363.89 189.41,362.08 188.95,360.26 188.49,358.45 188.03,356.64 187.6,354.83 187.17,353.02 186.72,351.21 186.27,349.4 185.84,347.59 185.42,345.77 185.04,343.96 184.69,342.15 184.4,340.34 184.16,338.84 183.96,337.34 183.79,335.84 183.66,334.34 183.55,332.84 183.48,331.34 183.43,329.83 183.4,328.33 183.39,326.99 183.41,325.64 183.45,324.3 183.51,322.95 183.61,321.61 183.74,320.26 183.9,318.92 184.1,317.57 184.34,315.76 184.63,313.95 184.96,312.14 185.31,310.33 185.69,308.51 186.09,306.7 186.49,304.89 186.9,303.08 187.32,301.01 187.78,298.94 188.25,296.87 188.74,294.8 189.22,292.73 189.7,290.66 190.16,288.59 190.6,286.52 191.02,284.45 191.42,282.38 191.82,280.31 192.21,278.24 192.58,276.17 192.94,274.1 193.28,272.03 193.6,269.96 193.91,267.99 194.22,266.03 194.51,264.06 194.79,262.09 195.04,260.13 195.26,258.16 195.45,256.19 195.6,254.23 197.2,254.23 197.35,256.19 197.54,258.16 197.76,260.13 198.01,262.09 198.29,264.06 198.58,266.03 198.89,267.99 199.2,269.96 199.52,272.03 199.86,274.1 200.22,276.17 200.59,278.24 200.98,280.31 201.38,282.38 201.78,284.45 202.2,286.52 202.64,288.59 203.1,290.66 203.58,292.73 204.06,294.8 204.55,296.87 205.02,298.94 205.48,301.01 205.9,303.08 206.31,304.89 206.71,306.7 207.11,308.51 207.49,310.33 207.84,312.14 208.17,313.95 208.46,315.76 208.7,317.57 208.9,318.92 209.06,320.26 209.19,321.61 209.29,322.95 209.35,324.3 209.39,325.64 209.41,326.99 209.4,328.33 209.37,329.83 209.32,331.34 209.25,332.84 209.14,334.34 209.01,335.84 208.84,337.34 208.64,338.84 208.4,340.34 208.11,342.15 207.76,343.96 207.38,345.77 206.96,347.59 206.53,349.4 206.08,351.21 205.63,353.02 205.2,354.83 204.77,356.64 204.31,358.45 203.85,360.26 203.39,362.08 202.92,363.89 202.47,365.7 202.02,367.51 201.6,369.32 201.19,371.13 200.78,372.94 200.37,374.75 199.97,376.57 199.6,378.38 199.24,380.19 198.9,382 198.6,383.81 198.32,385.36 198.06,386.92 197.83,388.47 197.61,390.02 197.42,391.57 197.25,393.12 197.11,394.68 197,396.23" fill="#1f77b4" fill-opacity="0.3"/>
<polygon points="248.4,340.34 248.39,337.75 248.39,335.17 248.38,332.58 248.38,329.99 248.36,327.4 248.35,324.82 248.33,322.23 248.3,319.64 248.27,318.86 248.23,318.09 248.19,317.31 248.15,316.54 248.1,315.76 248.04,314.98 247.98,314.21 247.9,313.43 247.82,312.65 247.73,311.88 247.63,311.1 247.53,310.33 247.42,309.55 247.29,308.77 247.15,308 247,307.22 246.84,306.19 246.68,305.15 246.5,304.12 246.32,303.08 246.11,302.05 245.88,301.01 245.61,299.98 245.3,298.94 244.94,297.39 244.54,295.84 244.11,294.28 243.64,292.73 243.16,291.18 242.67,289.63 242.18,288.07 241.7,286.52 241.21,284.97 240.69,283.42 240.15,281.86 239.61,280.31 239.09,278.76 238.58,277.21 238.12,275.65 237.7,274.1 237.32,272.55 236.96,271 236.62,269.44 236.31,267.89 236.04,266.34 235.81,264.79 235.63,263.23 235.5,261.68 235.43,260.65 235.42,259.61 235.45,258.58 235.53,257.54 235.63,256.5 235.77,255.47 235.93,254.44 236.1,253.4 236.29,252.62 236.5,251.85 236.73,251.07 236.99,250.3 237.27,249.52 237.59,248.74 237.93,247.97 238.3,247.19 238.74,246.47 239.27,245.74 239.84,245.02 240.44,244.29 241.01,243.57 241.54,242.84 241.98,242.12 242.3,241.39 254.7,241.39 255.02,242.12 255.46,242.84 255.99,243.57 256.56,244.29 257.16,245.02 257.73,245.74 258.26,246.47 258.7,247.19 259.07,247.97 259.41,248.74 259.73,249.52 260.01,250.3 260.27,251.07 260.5,251.85 260.71,252.62 260.9,253.4 261.07,254.44 261.23,255.47 261.37,256.5 261.48,257.54 261.55,258.58 261.58,259.61 261.57,260.65 261.5,261.68 261.37,263.23 261.19,264.79 260.96,266.34 260.69,267.89 260.38,269.44 260.04,271 259.68,272.55 259.3,274.1 258.88,275.65 258.42,277.21 257.91,278.76 257.39,280.31 256.85,281.86 256.31,283.42 255.79,284.97 255.3,286.52 254.82,288.07 254.33,289.63 253.84,291.18 253.36,292.73 252.89,294.28 252.46,295.84 252.06,297.39 251.7,298.94 251.39,299.98 251.12,301.01 250.89,302.05 250.68,303.08 250.5,304.12 250.32,305.15 250.16,306.19 250,307.22 249.85,308 249.71,308.77 249.58,309.55 249.47,310.33 249.37,311.1 249.27,311.88 249.18,312.65 249.1,313.43 249.02,314.21 248.96,314.98 248.9,315.76 248.85,316.54 248.81,317.31 248.77,318.09 248.73,318.86 248.7,319.64 248.67,322.23 248.65,324.82 248.64,327.4 248.62,329.99 248.62,332.58 248.61,335.17 248.61,337.75 248.6,340.34" fill="#1f77b4" fill-opacity="0.3"/>
<path d="M40.1 364.77V411.45M33.6 364.77H46.6M33.6 411.45H46.6" stroke="#1f77b4" stroke-width="1.15" fill="none" stroke-opacity="0.9"/>
<path d="M92.2 357.52V411.45M85.7 357.52H98.7M85.7 411.45H98.7" stroke="#1f77b4" stroke-width="1.15" fill="none" stroke-opacity="0.9"/>
<path d="M144.3 409.85V411.18M137.8 409.85H150.8M137.8 411.18H150.8" stroke="#1f77b4" stroke-width="1.15" fill="none" stroke-opacity="0.9"/>
<path d="M196.4 254.23V396.23M189.9 254.23H202.9M189.9 396.23H202.9" stroke="#1f77b4" stroke-width="1.15" fill="none" stroke-opacity="0.9"/>
<path d="M248.5 241.39V340.34M242 241.39H255M242 340.34H255" stroke="#1f77b4" stroke-width="1.15" fill="none" stroke-opacity="0.9"/>
<path d="M294.1 411.45H307.1" stroke="#1f77b4" stroke-width="1.15" fill="none" stroke-opacity="0.9"/>
<path d="M40.1 411.45V364.77M39.1 411.45h2M39.1 364.77h2" stroke="#000" stroke-width="0.55" stroke-opacity="0.75" fill="none"/>
<rect x="37.3" y="380.08" width="5.6" height="30.7" fill="#000"/>
<circle cx="40.1" cy="407.68" r="1.35" fill="#fff"/>
<path d="M92.2 411.45V357.52M91.2 411.45h2M91.2 357.52h2" stroke="#000" stroke-width="0.55" stroke-opacity="0.75" fill="none"/>
<rect x="89.4" y="380.08" width="5.6" height="31.37" fill="#000"/>
<circle cx="92.2" cy="411.45" r="1.7" fill="#fff" stroke="#000" stroke-width="1.05"/>
<circle cx="144.3" cy="410.78" r="1.7" fill="#fff" stroke="#000" stroke-width="1.05"/>
<path d="M196.4 396.23V254.23M195.4 396.23h2M195.4 254.23h2" stroke="#000" stroke-width="0.55" stroke-opacity="0.75" fill="none"/>
<rect x="193.6" y="303.49" width="5.6" height="43.26" fill="#000"/>
<circle cx="196.4" cy="326.26" r="1.35" fill="#fff"/>
<path d="M248.5 304.32V241.39M247.5 304.32h2M247.5 241.39h2" stroke="#000" stroke-width="0.55" stroke-opacity="0.75" fill="none"/>
<rect x="245.7" y="255.47" width="5.6" height="24.84" fill="#000"/>
<circle cx="248.5" cy="266.65" r="1.35" fill="#fff"/>
<circle cx="300.6" cy="411.45" r="1.7" fill="#fff" stroke="#000" stroke-width="1.05"/>
<rect x="13.95" y="233.3" width="312.75" height="186.2" fill="none" stroke="#333333" stroke-width="0.7"/>
<path d="M13.95 411.45h-2M13.95 390.69h-2M13.95 369.93h-2M13.95 349.17h-2M13.95 328.41h-2M13.95 307.65h-2M13.95 286.89h-2M13.95 266.13h-2M13.95 245.37h-2M40.1 419.5v2M92.2 419.5v2M144.3 419.5v2M196.4 419.5v2M248.5 419.5v2M300.6 419.5v2" stroke="#222" stroke-width="0.75" fill="none"/>
<g transform="translate(6.93 413.45) scale(0.1)"><text x="0" y="0" font-family="'Liberation Sans', sans-serif" font-size="60" textLength="28.2" lengthAdjust="spacingAndGlyphs" fill="#111" stroke="#111" stroke-width="1.6">0</text></g>
<g transform="translate(6.93 392.69) scale(0.1)"><text x="0" y="0" font-family="'Liberation Sans', sans-serif" font-size="60" textLength="28.2" lengthAdjust="spacingAndGlyphs" fill="#111" stroke="#111" stroke-width="1.6">1</text></g>
<g transform="translate(6.93 371.93) scale(0.1)"><text x="0" y="0" font-family="'Liberation Sans', sans-serif" font-size="60" textLength="28.2" lengthAdjust="spacingAndGlyphs" fill="#111" stroke="#111" stroke-width="1.6">2</text></g>
<g transform="translate(6.93 351.17) scale(0.1)"><text x="0" y="0" font-family="'Liberation Sans', sans-serif" font-size="60" textLength="28.2" lengthAdjust="spacingAndGlyphs" fill="#111" stroke="#111" stroke-width="1.6">3</text></g>
<g transform="translate(6.93 330.41) scale(0.1)"><text x="0" y="0" font-family="'Liberation Sans', sans-serif" font-size="60" textLength="28.2" lengthAdjust="spacingAndGlyphs" fill="#111" stroke="#111" stroke-width="1.6">4</text></g>
<g transform="translate(6.93 309.65) scale(0.1)"><text x="0" y="0" font-family="'Liberation Sans', sans-serif" font-size="60" textLength="28.2" lengthAdjust="spacingAndGlyphs" fill="#111" stroke="#111" stroke-width="1.6">5</text></g>
<g transform="translate(6.93 288.89) scale(0.1)"><text x="0" y="0" font-family="'Liberation Sans', sans-serif" font-size="60" textLength="28.2" lengthAdjust="spacingAndGlyphs" fill="#111" stroke="#111" stroke-width="1.6">6</text></g>
<g transform="translate(6.93 268.13) scale(0.1)"><text x="0" y="0" font-family="'Liberation Sans', sans-serif" font-size="60" textLength="28.2" lengthAdjust="spacingAndGlyphs" fill="#111" stroke="#111" stroke-width="1.6">7</text></g>
<g transform="translate(6.93 247.37) scale(0.1)"><text x="0" y="0" font-family="'Liberation Sans', sans-serif" font-size="60" textLength="28.2" lengthAdjust="spacingAndGlyphs" fill="#111" stroke="#111" stroke-width="1.6">8</text></g>
<g transform="translate(37.28 427.6) scale(0.1)"><text x="0" y="0" font-family="'Liberation Sans', sans-serif" font-size="60" textLength="56.4" lengthAdjust="spacingAndGlyphs" fill="#111" stroke="#111" stroke-width="1.6">MA</text></g>
<g transform="translate(87.97 427.6) scale(0.1)"><text x="0" y="0" font-family="'Liberation Sans', sans-serif" font-size="60" textLength="84.6" lengthAdjust="spacingAndGlyphs" fill="#111" stroke="#111" stroke-width="1.6">PSO</text></g>
<g transform="translate(141.48 427.6) scale(0.1)"><text x="0" y="0" font-family="'Liberation Sans', sans-serif" font-size="60" textLength="56.4" lengthAdjust="spacingAndGlyphs" fill="#111" stroke="#111" stroke-width="1.6">GA</text></g>
<g transform="translate(193.58 427.6) scale(0.1)"><text x="0" y="0" font-family="'Liberation Sans', sans-serif" font-size="60" textLength="56.4" lengthAdjust="spacingAndGlyphs" fill="#111" stroke="#111" stroke-width="1.6">FA</text></g>
<g transform="translate(244.27 427.6) scale(0.1)"><text x="0" y="0" font-family="'Liberation Sans', sans-serif" font-size="60" textLength="84.6" lengthAdjust="spacingAndGlyphs" fill="#111" stroke="#111" stroke-width="1.6">SCA</text></g>
<g transform="translate(292.14 427.6) scale(0.1)"><text x="0" y="0" font-family="'Liberation Sans', sans-serif" font-size="60" textLength="169.2" lengthAdjust="spacingAndGlyphs" fill="#111" stroke="#111" stroke-width="1.6">HSI-MA</text></g>
<g transform="translate(4.2 326.4) rotate(-90)"><g transform="translate(-33.84 0) scale(0.1)"><text x="0" y="0" font-family="'Liberation Sans', sans-serif" font-size="60" textLength="676.8" lengthAdjust="spacingAndGlyphs" fill="#111" stroke="#111" stroke-width="1.6">Objective Function Value</text></g></g>
<text x="173.2" y="444.2" text-anchor="middle" font-family="'Liberation Serif', serif" font-weight="bold" font-size="14.6" fill="#111">(c)</text>
</g>
<g>
<polygon points="384.8,410.4 384.71,410.11 384.56,409.82 384.38,409.54 384.2,409.25 384.03,408.96 383.89,408.67 383.81,408.38 383.8,408.1 383.86,407.66 383.97,407.23 384.12,406.8 384.31,406.37 384.54,405.93 384.8,405.5 385.09,405.07 385.4,404.63 385.77,403.91 386.21,403.19 386.69,402.47 387.2,401.75 387.71,401.03 388.19,400.31 388.63,399.6 389,398.88 389.31,398.1 389.59,397.31 389.84,396.53 390.06,395.74 390.25,394.96 390.4,394.17 390.52,393.39 390.6,392.6 390.63,391.96 390.61,391.32 390.54,390.68 390.44,390.03 390.33,389.39 390.21,388.75 390.09,388.11 390,387.46 389.9,386.77 389.78,386.08 389.65,385.39 389.52,384.7 389.41,384.01 389.32,383.32 389.28,382.64 389.3,381.95 389.38,381.21 389.5,380.47 389.66,379.73 389.86,379 390.07,378.26 390.31,377.52 390.55,376.78 390.8,376.05 391.06,375.33 391.36,374.62 391.67,373.91 391.99,373.19 392.32,372.48 392.64,371.76 392.93,371.05 393.2,370.34 393.45,369.62 393.68,368.91 393.9,368.2 394.11,367.48 394.31,366.77 394.49,366.06 394.65,365.34 394.8,364.63 394.93,364.13 395.03,363.63 395.12,363.13 395.2,362.63 395.26,362.13 395.32,361.63 395.36,361.13 395.4,360.63 398.2,360.63 398.24,361.13 398.28,361.63 398.34,362.13 398.4,362.63 398.48,363.13 398.57,363.63 398.67,364.13 398.8,364.63 398.95,365.34 399.11,366.06 399.29,366.77 399.49,367.48 399.7,368.2 399.92,368.91 400.15,369.62 400.4,370.34 400.67,371.05 400.96,371.76 401.28,372.48 401.61,373.19 401.93,373.91 402.24,374.62 402.54,375.33 402.8,376.05 403.05,376.78 403.29,377.52 403.53,378.26 403.74,379 403.94,379.73 404.1,380.47 404.22,381.21 404.3,381.95 404.32,382.64 404.28,383.32 404.19,384.01 404.08,384.7 403.95,385.39 403.82,386.08 403.7,386.77 403.6,387.46 403.51,388.11 403.39,388.75 403.27,389.39 403.16,390.03 403.06,390.68 402.99,391.32 402.97,391.96 403,392.6 403.08,393.39 403.2,394.17 403.35,394.96 403.54,395.74 403.76,396.53 404.01,397.31 404.29,398.1 404.6,398.88 404.97,399.6 405.41,400.31 405.89,401.03 406.4,401.75 406.91,402.47 407.39,403.19 407.83,403.91 408.2,404.63 408.51,405.07 408.8,405.5 409.06,405.93 409.29,406.37 409.48,406.8 409.63,407.23 409.74,407.66 409.8,408.1 409.79,408.38 409.71,408.67 409.57,408.96 409.4,409.25 409.22,409.54 409.04,409.82 408.89,410.11 408.8,410.4" fill="#1f77b4" fill-opacity="0.3"/>
<polygon points="436.94,410.4 436.84,410.11 436.69,409.82 436.52,409.54 436.33,409.25 436.15,408.96 436.02,408.67 435.94,408.38 435.94,408.1 436.03,407.54 436.18,406.99 436.39,406.44 436.64,405.88 436.91,405.33 437.2,404.78 437.48,404.23 437.74,403.67 438.01,403.07 438.3,402.47 438.61,401.87 438.92,401.27 439.21,400.67 439.49,400.07 439.74,399.48 439.94,398.88 440.1,398.41 440.24,397.93 440.36,397.45 440.45,396.98 440.52,396.5 440.55,396.03 440.56,395.55 440.54,395.08 440.48,394.36 440.39,393.65 440.27,392.94 440.13,392.22 439.96,391.51 439.77,390.79 439.56,390.08 439.34,389.37 439.09,388.42 438.79,387.46 438.47,386.51 438.13,385.56 437.79,384.61 437.47,383.66 437.18,382.71 436.94,381.75 436.73,380.64 436.54,379.52 436.37,378.4 436.21,377.28 436.09,376.16 436,375.05 435.95,373.93 435.94,372.81 435.96,371.79 436.01,370.77 436.1,369.74 436.21,368.72 436.37,367.7 436.58,366.67 436.83,365.65 437.14,364.63 437.54,363.68 438.04,362.73 438.6,361.77 439.2,360.82 439.81,359.87 440.39,358.92 440.91,357.97 441.34,357.02 441.68,356.54 441.97,356.06 442.22,355.59 442.43,355.11 442.61,354.64 442.79,354.16 442.96,353.69 443.14,353.21 443.33,352.88 443.51,352.54 443.69,352.21 443.85,351.88 444,351.54 444.14,351.21 444.25,350.88 444.34,350.55 453.54,350.55 453.63,350.88 453.74,351.21 453.88,351.54 454.03,351.88 454.19,352.21 454.37,352.54 454.55,352.88 454.74,353.21 454.92,353.69 455.09,354.16 455.27,354.64 455.45,355.11 455.66,355.59 455.91,356.06 456.2,356.54 456.54,357.02 456.97,357.97 457.49,358.92 458.07,359.87 458.68,360.82 459.28,361.77 459.84,362.73 460.34,363.68 460.74,364.63 461.05,365.65 461.3,366.67 461.51,367.7 461.67,368.72 461.78,369.74 461.87,370.77 461.92,371.79 461.94,372.81 461.93,373.93 461.88,375.05 461.79,376.16 461.67,377.28 461.51,378.4 461.34,379.52 461.15,380.64 460.94,381.75 460.7,382.71 460.41,383.66 460.09,384.61 459.75,385.56 459.41,386.51 459.09,387.46 458.79,388.42 458.54,389.37 458.32,390.08 458.11,390.79 457.92,391.51 457.75,392.22 457.61,392.94 457.49,393.65 457.4,394.36 457.34,395.08 457.32,395.55 457.33,396.03 457.36,396.5 457.43,396.98 457.52,397.45 457.64,397.93 457.78,398.41 457.94,398.88 458.14,399.48 458.39,400.07 458.67,400.67 458.96,401.27 459.27,401.87 459.58,402.47 459.87,403.07 460.14,403.67 460.4,404.23 460.68,404.78 460.97,405.33 461.24,405.88 461.49,406.44 461.7,406.99 461.85,407.54 461.94,408.1 461.94,408.38 461.86,408.67 461.73,408.96 461.55,409.25 461.36,409.54 461.19,409.82 461.04,410.11 460.94,410.4" fill="#1f77b4" fill-opacity="0.3"/>
<polygon points="488.08,410.4 488.75,410.33 489.71,410.26 490.85,410.18 492.08,410.11 493.31,410.04 494.46,409.97 495.41,409.9 496.08,409.82 496.47,409.73 496.48,409.63 496.48,409.54 496.48,409.44 496.48,409.34 496.37,409.25 496.21,409.15 496.08,409.06 495.95,408.98 495.78,408.91 495.56,408.84 495.33,408.77 495.1,408.7 494.88,408.62 494.71,408.55 494.58,408.48 507.58,408.48 507.45,408.55 507.28,408.62 507.06,408.7 506.83,408.77 506.6,408.84 506.38,408.91 506.21,408.98 506.08,409.06 505.95,409.15 505.79,409.25 505.68,409.34 505.68,409.44 505.68,409.54 505.68,409.63 505.69,409.73 506.08,409.82 506.75,409.9 507.71,409.97 508.85,410.04 510.08,410.11 511.31,410.18 512.46,410.26 513.41,410.33 514.08,410.4" fill="#1f77b4" fill-opacity="0.3"/>
<polygon points="552.82,389.37 552.7,387.7 552.56,386.04 552.38,384.37 552.18,382.71 551.96,381.04 551.73,379.38 551.48,377.71 551.22,376.05 550.94,374.38 550.63,372.72 550.3,371.05 549.96,369.39 549.61,367.72 549.27,366.06 548.93,364.39 548.62,362.73 548.31,361.06 548,359.39 547.69,357.73 547.39,356.06 547.1,354.4 546.84,352.73 546.61,351.07 546.42,349.4 546.27,348.21 546.17,347.03 546.1,345.84 546.05,344.65 546.02,343.46 545.99,342.27 545.96,341.08 545.92,339.89 545.88,338.94 545.86,337.99 545.84,337.03 545.83,336.08 545.8,335.13 545.77,334.18 545.71,333.23 545.62,332.28 545.51,331.09 545.38,329.9 545.23,328.71 545.06,327.52 544.88,326.33 544.68,325.14 544.46,323.95 544.22,322.76 543.94,321.33 543.62,319.91 543.27,318.48 542.91,317.05 542.55,315.63 542.2,314.2 541.89,312.77 541.62,311.34 541.4,310.15 541.2,308.97 541.02,307.78 540.87,306.59 540.74,305.4 540.62,304.21 540.51,303.02 540.42,301.83 540.34,301.12 540.28,300.4 540.23,299.69 540.2,298.97 540.19,298.26 540.18,297.55 540.2,296.83 540.22,296.12 540.25,295.17 540.28,294.22 540.33,293.27 540.39,292.31 540.47,291.36 540.58,290.41 540.73,289.46 540.92,288.51 541.16,287.32 541.44,286.13 541.76,284.94 542.1,283.75 542.47,282.56 542.85,281.37 543.24,280.18 543.62,278.99 544.02,278.04 544.45,277.09 544.9,276.14 545.35,275.19 545.8,274.24 546.24,273.28 546.65,272.33 547.02,271.38 547.37,270.79 547.71,270.19 548.03,269.6 548.33,269 548.61,268.41 548.85,267.81 549.06,267.22 549.22,266.62 557.22,266.62 557.38,267.22 557.59,267.81 557.83,268.41 558.11,269 558.41,269.6 558.73,270.19 559.07,270.79 559.42,271.38 559.79,272.33 560.2,273.28 560.64,274.24 561.09,275.19 561.54,276.14 561.99,277.09 562.42,278.04 562.82,278.99 563.2,280.18 563.59,281.37 563.97,282.56 564.34,283.75 564.68,284.94 565,286.13 565.28,287.32 565.52,288.51 565.71,289.46 565.86,290.41 565.97,291.36 566.05,292.31 566.11,293.27 566.16,294.22 566.19,295.17 566.22,296.12 566.24,296.83 566.26,297.55 566.25,298.26 566.24,298.97 566.21,299.69 566.16,300.4 566.1,301.12 566.02,301.83 565.93,303.02 565.82,304.21 565.7,305.4 565.57,306.59 565.42,307.78 565.24,308.97 565.04,310.15 564.82,311.34 564.55,312.77 564.24,314.2 563.89,315.63 563.53,317.05 563.17,318.48 562.82,319.91 562.5,321.33 562.22,322.76 561.98,323.95 561.76,325.14 561.56,326.33 561.38,327.52 561.21,328.71 561.06,329.9 560.93,331.09 560.82,332.28 560.73,333.23 560.67,334.18 560.64,335.13 560.61,336.08 560.6,337.03 560.58,337.99 560.56,338.94 560.52,339.89 560.48,341.08 560.45,342.27 560.42,343.46 560.39,344.65 560.34,345.84 560.27,347.03 560.17,348.21 560.02,349.4 559.83,351.07 559.6,352.73 559.34,354.4 559.05,356.06 558.75,357.73 558.44,359.39 558.13,361.06 557.82,362.73 557.51,364.39 557.17,366.06 556.83,367.72 556.48,369.39 556.14,371.05 555.81,372.72 555.5,374.38 555.22,376.05 554.96,377.71 554.71,379.38 554.48,381.04 554.26,382.71 554.06,384.37 553.88,386.04 553.74,387.7 553.62,389.37" fill="#1f77b4" fill-opacity="0.3"/>
<polygon points="605.26,307.54 605.24,306.59 605.22,305.63 605.2,304.68 605.17,303.73 605.12,302.78 605.06,301.83 604.97,300.88 604.86,299.93 604.71,298.97 604.54,298.02 604.35,297.07 604.13,296.12 603.91,295.17 603.66,294.22 603.41,293.27 603.16,292.31 602.9,291.36 602.62,290.41 602.34,289.46 602.04,288.51 601.73,287.56 601.42,286.61 601.09,285.65 600.76,284.7 600.42,283.75 600.07,282.8 599.71,281.85 599.35,280.9 598.97,279.94 598.58,278.99 598.18,278.04 597.76,277.09 597.31,276.14 596.81,275.19 596.3,274.24 595.77,273.28 595.26,272.33 594.77,271.38 594.34,270.43 593.96,269.48 593.64,268.65 593.34,267.81 593.08,266.98 592.86,266.15 592.67,265.32 592.53,264.48 592.42,263.65 592.36,262.82 592.34,262.22 592.36,261.63 592.41,261.03 592.51,260.44 592.65,259.84 592.84,259.25 593.07,258.65 593.36,258.06 593.72,257.35 594.15,256.63 594.64,255.92 595.17,255.21 595.73,254.49 596.29,253.78 596.84,253.06 597.36,252.35 597.87,251.64 598.39,250.92 598.91,250.21 599.44,249.5 599.95,248.78 600.44,248.07 600.92,247.36 601.36,246.64 601.79,245.93 602.21,245.21 602.62,244.5 603.01,243.79 603.37,243.07 603.69,242.36 603.95,241.65 604.16,240.93 606.56,240.93 606.77,241.65 607.03,242.36 607.35,243.07 607.71,243.79 608.1,244.5 608.51,245.21 608.93,245.93 609.36,246.64 609.8,247.36 610.28,248.07 610.77,248.78 611.28,249.5 611.81,250.21 612.33,250.92 612.85,251.64 613.36,252.35 613.88,253.06 614.43,253.78 614.99,254.49 615.55,255.21 616.08,255.92 616.57,256.63 617,257.35 617.36,258.06 617.65,258.65 617.88,259.25 618.07,259.84 618.21,260.44 618.31,261.03 618.36,261.63 618.38,262.22 618.36,262.82 618.3,263.65 618.19,264.48 618.05,265.32 617.86,266.15 617.64,266.98 617.38,267.81 617.08,268.65 616.76,269.48 616.38,270.43 615.95,271.38 615.46,272.33 614.95,273.28 614.42,274.24 613.91,275.19 613.41,276.14 612.96,277.09 612.54,278.04 612.14,278.99 611.75,279.94 611.37,280.9 611.01,281.85 610.65,282.8 610.3,283.75 609.96,284.7 609.63,285.65 609.3,286.61 608.99,287.56 608.68,288.51 608.38,289.46 608.1,290.41 607.82,291.36 607.56,292.31 607.31,293.27 607.06,294.22 606.81,295.17 606.59,296.12 606.37,297.07 606.18,298.02 606.01,298.97 605.86,299.93 605.75,300.88 605.66,301.83 605.6,302.78 605.55,303.73 605.52,304.68 605.5,305.63 605.48,306.59 605.46,307.54" fill="#1f77b4" fill-opacity="0.3"/>
<path d="M396.8 360.63V410.4M390.3 360.63H403.3M390.3 410.4H403.3" stroke="#1f77b4" stroke-width="1.15" fill="none" stroke-opacity="0.9"/>
<path d="M448.94 350.55V410.4M442.44 350.55H455.44M442.44 410.4H455.44" stroke="#1f77b4" stroke-width="1.15" fill="none" stroke-opacity="0.9"/>
<path d="M501.08 408.48V410.4M494.58 408.48H507.58M494.58 410.4H507.58" stroke="#1f77b4" stroke-width="1.15" fill="none" stroke-opacity="0.9"/>
<path d="M553.22 266.62V389.37M546.72 266.62H559.72M546.72 389.37H559.72" stroke="#1f77b4" stroke-width="1.15" fill="none" stroke-opacity="0.9"/>
<path d="M605.36 240.93V307.54M598.86 240.93H611.86M598.86 307.54H611.86" stroke="#1f77b4" stroke-width="1.15" fill="none" stroke-opacity="0.9"/>
<path d="M651 410.4H664" stroke="#1f77b4" stroke-width="1.15" fill="none" stroke-opacity="0.9"/>
<path d="M396.8 410.4V360.63M395.8 410.4h2M395.8 360.63h2" stroke="#000" stroke-width="0.55" stroke-opacity="0.75" fill="none"/>
<rect x="394" y="385.18" width="5.6" height="24.84" fill="#000"/>
<circle cx="396.8" cy="402.71" r="1.35" fill="#fff"/>
<path d="M448.94 410.4V350.55M447.94 410.4h2M447.94 350.55h2" stroke="#000" stroke-width="0.55" stroke-opacity="0.75" fill="none"/>
<rect x="446.14" y="367.29" width="5.6" height="43.11" fill="#000"/>
<circle cx="448.94" cy="385.37" r="1.35" fill="#fff"/>
<circle cx="501.08" cy="409.82" r="1.7" fill="#fff" stroke="#000" stroke-width="1.05"/>
<path d="M553.22 389.37V266.62M552.22 389.37h2M552.22 266.62h2" stroke="#000" stroke-width="0.55" stroke-opacity="0.75" fill="none"/>
<rect x="550.42" y="290.41" width="5.6" height="43.77" fill="#000"/>
<circle cx="553.22" cy="302.97" r="1.35" fill="#fff"/>
<path d="M605.36 298.02V240.93M604.36 298.02h2M604.36 240.93h2" stroke="#000" stroke-width="0.55" stroke-opacity="0.75" fill="none"/>
<rect x="602.56" y="258.63" width="5.6" height="18.46" fill="#000"/>
<circle cx="605.36" cy="265.67" r="1.35" fill="#fff"/>
<circle cx="657.5" cy="410.4" r="1.7" fill="#fff" stroke="#000" stroke-width="1.05"/>
<rect x="370.65" y="232.5" width="313.15" height="185.9" fill="none" stroke="#333333" stroke-width="0.7"/>
<path d="M370.65 410.4h-2M370.65 372.4h-2M370.65 334.4h-2M370.65 296.4h-2M370.65 258.4h-2M396.8 418.4v2M448.94 418.4v2M501.08 418.4v2M553.22 418.4v2M605.36 418.4v2M657.5 418.4v2" stroke="#222" stroke-width="0.75" fill="none"/>
<g transform="translate(363.63 412.4) scale(0.1)"><text x="0" y="0" font-family="'Liberation Sans', sans-serif" font-size="60" textLength="28.2" lengthAdjust="spacingAndGlyphs" fill="#111" stroke="#111" stroke-width="1.6">0</text></g>
<g transform="translate(363.63 374.4) scale(0.1)"><text x="0" y="0" font-family="'Liberation Sans', sans-serif" font-size="60" textLength="28.2" lengthAdjust="spacingAndGlyphs" fill="#111" stroke="#111" stroke-width="1.6">2</text></g>
<g transform="translate(363.63 336.4) scale(0.1)"><text x="0" y="0" font-family="'Liberation Sans', sans-serif" font-size="60" textLength="28.2" lengthAdjust="spacingAndGlyphs" fill="#111" stroke="#111" stroke-width="1.6">4</text></g>
<g transform="translate(363.63 298.4) scale(0.1)"><text x="0" y="0" font-family="'Liberation Sans', sans-serif" font-size="60" textLength="28.2" lengthAdjust="spacingAndGlyphs" fill="#111" stroke="#111" stroke-width="1.6">6</text></g>
<g transform="translate(363.63 260.4) scale(0.1)"><text x="0" y="0" font-family="'Liberation Sans', sans-serif" font-size="60" textLength="28.2" lengthAdjust="spacingAndGlyphs" fill="#111" stroke="#111" stroke-width="1.6">8</text></g>
<g transform="translate(393.98 426.5) scale(0.1)"><text x="0" y="0" font-family="'Liberation Sans', sans-serif" font-size="60" textLength="56.4" lengthAdjust="spacingAndGlyphs" fill="#111" stroke="#111" stroke-width="1.6">MA</text></g>
<g transform="translate(444.71 426.5) scale(0.1)"><text x="0" y="0" font-family="'Liberation Sans', sans-serif" font-size="60" textLength="84.6" lengthAdjust="spacingAndGlyphs" fill="#111" stroke="#111" stroke-width="1.6">PSO</text></g>
<g transform="translate(498.26 426.5) scale(0.1)"><text x="0" y="0" font-family="'Liberation Sans', sans-serif" font-size="60" textLength="56.4" lengthAdjust="spacingAndGlyphs" fill="#111" stroke="#111" stroke-width="1.6">GA</text></g>
<g transform="translate(550.4 426.5) scale(0.1)"><text x="0" y="0" font-family="'Liberation Sans', sans-serif" font-size="60" textLength="56.4" lengthAdjust="spacingAndGlyphs" fill="#111" stroke="#111" stroke-width="1.6">FA</text></g>
<g transform="translate(601.13 426.5) scale(0.1)"><text x="0" y="0" font-family="'Liberation Sans', sans-serif" font-size="60" textLength="84.6" lengthAdjust="spacingAndGlyphs" fill="#111" stroke="#111" stroke-width="1.6">SCA</text></g>
<g transform="translate(649.04 426.5) scale(0.1)"><text x="0" y="0" font-family="'Liberation Sans', sans-serif" font-size="60" textLength="169.2" lengthAdjust="spacingAndGlyphs" fill="#111" stroke="#111" stroke-width="1.6">HSI-MA</text></g>
<g transform="translate(361 325.45) rotate(-90)"><g transform="translate(-33.84 0) scale(0.1)"><text x="0" y="0" font-family="'Liberation Sans', sans-serif" font-size="60" textLength="676.8" lengthAdjust="spacingAndGlyphs" fill="#111" stroke="#111" stroke-width="1.6">Objective Function Value</text></g></g>
<text x="529.7" y="444.8" text-anchor="middle" font-family="'Liberation Serif', serif" font-weight="bold" font-size="14.6" fill="#111">(d)</text>
</g>
<g>
<polygon points="28.5,640.2 28.37,639.95 28.18,639.69 27.96,639.44 27.73,639.18 27.48,638.93 27.25,638.68 27.05,638.42 26.9,638.17 26.77,637.79 26.65,637.41 26.54,637.03 26.45,636.65 26.39,636.27 26.38,635.89 26.41,635.51 26.5,635.13 26.67,634.5 26.91,633.87 27.21,633.24 27.55,632.61 27.91,631.98 28.26,631.36 28.6,630.73 28.9,630.1 29.18,629.45 29.48,628.81 29.77,628.16 30.05,627.51 30.31,626.86 30.55,626.22 30.75,625.57 30.9,624.92 31,624.18 31.05,623.44 31.06,622.7 31.05,621.96 31.02,621.22 30.98,620.48 30.93,619.74 30.9,619 30.86,618.14 30.79,617.29 30.7,616.43 30.61,615.58 30.54,614.72 30.48,613.87 30.47,613.01 30.5,612.15 30.58,611.39 30.7,610.63 30.86,609.87 31.04,609.1 31.24,608.34 31.45,607.58 31.67,606.81 31.9,606.05 32.14,605.36 32.39,604.66 32.67,603.97 32.95,603.27 33.24,602.58 33.53,601.89 33.82,601.19 34.1,600.5 34.38,599.92 34.67,599.34 34.97,598.77 35.26,598.19 35.55,597.61 35.82,597.03 36.07,596.45 36.3,595.88 36.51,595.34 36.7,594.81 36.88,594.28 37.04,593.75 37.18,593.22 37.31,592.68 37.41,592.15 37.5,591.62 41.5,591.62 41.59,592.15 41.69,592.68 41.82,593.22 41.96,593.75 42.12,594.28 42.3,594.81 42.49,595.34 42.7,595.88 42.93,596.45 43.18,597.03 43.45,597.61 43.74,598.19 44.03,598.77 44.33,599.34 44.62,599.92 44.9,600.5 45.18,601.19 45.47,601.89 45.76,602.58 46.05,603.27 46.33,603.97 46.61,604.66 46.86,605.36 47.1,606.05 47.33,606.81 47.55,607.58 47.76,608.34 47.96,609.1 48.14,609.87 48.3,610.63 48.42,611.39 48.5,612.15 48.53,613.01 48.52,613.87 48.46,614.72 48.39,615.58 48.3,616.43 48.21,617.29 48.14,618.14 48.1,619 48.07,619.74 48.02,620.48 47.98,621.22 47.95,621.96 47.94,622.7 47.95,623.44 48,624.18 48.1,624.92 48.25,625.57 48.45,626.22 48.69,626.86 48.95,627.51 49.23,628.16 49.52,628.81 49.82,629.45 50.1,630.1 50.4,630.73 50.74,631.36 51.09,631.98 51.45,632.61 51.79,633.24 52.09,633.87 52.33,634.5 52.5,635.13 52.59,635.51 52.62,635.89 52.61,636.27 52.55,636.65 52.46,637.03 52.35,637.41 52.23,637.79 52.1,638.17 51.95,638.42 51.75,638.68 51.52,638.93 51.27,639.18 51.04,639.44 50.82,639.69 50.63,639.95 50.5,640.2" fill="#1f77b4" fill-opacity="0.3"/>
<polygon points="85.17,640.2 85.4,639.69 85.71,639.18 86.09,638.68 86.5,638.17 86.92,637.66 87.32,637.16 87.68,636.65 87.97,636.14 88.2,635.64 88.41,635.13 88.59,634.63 88.74,634.12 88.86,633.62 88.96,633.12 89.03,632.61 89.07,632.11 89.08,631.36 89.07,630.6 89.03,629.87 88.96,629.18 88.87,628.48 88.73,627.79 88.57,627.09 88.37,626.4 88.13,625.71 87.86,625.01 87.54,624.32 87.2,623.62 86.83,622.93 86.43,622.24 86.01,621.54 85.57,620.85 85.08,619.93 84.53,619 83.94,618.08 83.34,617.15 82.74,616.23 82.16,615.3 81.63,614.38 81.17,613.45 80.77,612.52 80.4,611.6 80.07,610.68 79.76,609.75 79.49,608.83 79.26,607.9 79.05,606.98 78.87,606.05 78.73,605.5 78.62,604.94 78.55,604.38 78.51,603.83 78.5,603.27 78.51,602.72 78.53,602.16 78.57,601.61 78.61,600.78 78.66,599.95 78.73,599.11 78.81,598.28 78.93,597.45 79.09,596.62 79.3,595.78 79.57,594.95 79.92,594.02 80.34,593.1 80.82,592.18 81.33,591.25 81.87,590.33 82.4,589.4 82.9,588.48 83.37,587.55 83.81,586.97 84.25,586.39 84.69,585.82 85.12,585.24 85.53,584.66 85.91,584.08 86.26,583.5 86.57,582.93 86.84,582.58 87.08,582.23 87.29,581.88 87.47,581.54 87.63,581.19 87.76,580.84 87.87,580.5 87.97,580.15 95.17,580.15 95.27,580.5 95.38,580.84 95.51,581.19 95.67,581.54 95.85,581.88 96.06,582.23 96.3,582.58 96.57,582.93 96.88,583.5 97.23,584.08 97.61,584.66 98.02,585.24 98.45,585.82 98.89,586.39 99.33,586.97 99.77,587.55 100.24,588.48 100.74,589.4 101.27,590.33 101.81,591.25 102.32,592.18 102.8,593.1 103.22,594.02 103.57,594.95 103.84,595.78 104.05,596.62 104.21,597.45 104.33,598.28 104.41,599.11 104.48,599.95 104.53,600.78 104.57,601.61 104.61,602.16 104.63,602.72 104.64,603.27 104.63,603.83 104.59,604.38 104.52,604.94 104.41,605.5 104.27,606.05 104.09,606.98 103.88,607.9 103.65,608.83 103.38,609.75 103.07,610.68 102.74,611.6 102.37,612.52 101.97,613.45 101.51,614.38 100.98,615.3 100.4,616.23 99.8,617.15 99.2,618.08 98.61,619 98.06,619.93 97.57,620.85 97.13,621.54 96.71,622.24 96.31,622.93 95.94,623.62 95.6,624.32 95.28,625.01 95.01,625.71 94.77,626.4 94.57,627.09 94.41,627.79 94.27,628.48 94.18,629.18 94.11,629.87 94.07,630.6 94.06,631.36 94.07,632.11 94.11,632.61 94.18,633.12 94.28,633.62 94.4,634.12 94.55,634.63 94.73,635.13 94.94,635.64 95.17,636.14 95.46,636.65 95.82,637.16 96.22,637.66 96.64,638.17 97.05,638.68 97.43,639.18 97.74,639.69 97.97,640.2" fill="#1f77b4" fill-opacity="0.3"/>
<polygon points="130.64,640.2 130.73,640.1 130.82,640 130.92,639.9 131.05,639.79 131.22,639.69 131.45,639.59 131.75,639.49 132.14,639.39 132.65,639.23 133.28,639.08 133.99,638.93 134.76,638.78 135.54,638.63 136.3,638.47 137.02,638.32 137.64,638.17 138.19,637.97 138.72,637.76 139.22,637.56 139.68,637.36 140.12,637.16 140.53,636.95 140.9,636.75 141.24,636.55 141.54,636.25 141.81,635.94 142.03,635.64 142.23,635.34 142.41,635.03 142.56,634.73 142.71,634.43 142.84,634.12 142.96,633.62 143.05,633.12 143.13,632.61 143.18,632.11 143.23,631.61 143.27,631.1 143.3,630.6 143.34,630.1 143.37,626.17 143.4,622.24 143.41,618.31 143.42,614.38 143.43,610.44 143.43,606.51 143.44,602.58 143.44,598.65 143.84,598.65 143.84,602.58 143.85,606.51 143.85,610.44 143.86,614.38 143.87,618.31 143.88,622.24 143.91,626.17 143.94,630.1 143.98,630.6 144.01,631.1 144.05,631.61 144.1,632.11 144.15,632.61 144.23,633.12 144.32,633.62 144.44,634.12 144.57,634.43 144.72,634.73 144.87,635.03 145.05,635.34 145.25,635.64 145.47,635.94 145.74,636.25 146.04,636.55 146.38,636.75 146.75,636.95 147.16,637.16 147.6,637.36 148.06,637.56 148.56,637.76 149.09,637.97 149.64,638.17 150.26,638.32 150.98,638.47 151.74,638.63 152.52,638.78 153.29,638.93 154,639.08 154.63,639.23 155.14,639.39 155.53,639.49 155.83,639.59 156.06,639.69 156.23,639.79 156.36,639.9 156.46,640 156.55,640.1 156.64,640.2" fill="#1f77b4" fill-opacity="0.3"/>
<polygon points="193.11,587.55 192.96,586.39 192.77,585.24 192.54,584.08 192.28,582.93 192.01,581.77 191.71,580.61 191.41,579.46 191.11,578.3 190.8,576.91 190.47,575.52 190.13,574.14 189.77,572.75 189.41,571.36 189.04,569.98 188.68,568.59 188.31,567.2 187.94,565.81 187.55,564.43 187.16,563.04 186.77,561.65 186.38,560.26 186,558.88 185.64,557.49 185.31,556.1 184.99,554.71 184.68,553.33 184.39,551.94 184.1,550.55 183.84,549.16 183.6,547.78 183.39,546.39 183.21,545 183.06,543.91 182.95,542.83 182.87,541.74 182.8,540.65 182.76,539.57 182.73,538.48 182.72,537.39 182.71,536.31 182.7,535.31 182.7,534.32 182.71,533.32 182.74,532.33 182.79,531.33 182.86,530.34 182.97,529.34 183.11,528.35 183.29,526.96 183.51,525.58 183.77,524.19 184.05,522.8 184.35,521.41 184.66,520.03 184.98,518.64 185.31,517.25 185.65,515.86 186.03,514.48 186.42,513.09 186.82,511.7 187.22,510.31 187.61,508.93 187.98,507.54 188.31,506.15 188.61,505.23 188.89,504.3 189.16,503.38 189.41,502.45 189.65,501.52 189.88,500.6 190.1,499.68 190.31,498.75 190.52,498.06 190.74,497.36 190.94,496.67 191.14,495.98 191.31,495.28 191.47,494.59 191.61,493.89 191.71,493.2 199.71,493.2 199.81,493.89 199.95,494.59 200.11,495.28 200.28,495.98 200.48,496.67 200.69,497.36 200.9,498.06 201.11,498.75 201.32,499.68 201.54,500.6 201.77,501.52 202.01,502.45 202.26,503.38 202.53,504.3 202.81,505.23 203.11,506.15 203.44,507.54 203.81,508.93 204.2,510.31 204.6,511.7 205,513.09 205.39,514.48 205.77,515.86 206.11,517.25 206.44,518.64 206.76,520.03 207.07,521.41 207.37,522.8 207.65,524.19 207.91,525.58 208.13,526.96 208.31,528.35 208.45,529.34 208.56,530.34 208.63,531.33 208.68,532.33 208.71,533.32 208.72,534.32 208.72,535.31 208.71,536.31 208.7,537.39 208.69,538.48 208.66,539.57 208.62,540.65 208.55,541.74 208.47,542.83 208.36,543.91 208.21,545 208.03,546.39 207.82,547.78 207.58,549.16 207.32,550.55 207.03,551.94 206.74,553.33 206.43,554.71 206.11,556.1 205.78,557.49 205.42,558.88 205.04,560.26 204.65,561.65 204.26,563.04 203.87,564.43 203.48,565.81 203.11,567.2 202.74,568.59 202.38,569.98 202.01,571.36 201.65,572.75 201.29,574.14 200.95,575.52 200.62,576.91 200.31,578.3 200.01,579.46 199.71,580.61 199.41,581.77 199.14,582.93 198.88,584.08 198.65,585.24 198.46,586.39 198.31,587.55" fill="#1f77b4" fill-opacity="0.3"/>
<polygon points="247.68,544.08 247.67,542.34 247.67,540.61 247.66,538.87 247.65,537.14 247.63,535.4 247.6,533.67 247.55,531.93 247.48,530.2 247.39,529.27 247.3,528.35 247.19,527.43 247.07,526.5 246.93,525.58 246.77,524.65 246.59,523.73 246.38,522.8 246.15,521.64 245.89,520.49 245.6,519.33 245.3,518.18 244.98,517.02 244.65,515.86 244.32,514.71 243.98,513.55 243.64,512.62 243.29,511.7 242.93,510.77 242.57,509.85 242.19,508.93 241.8,508 241.4,507.08 240.98,506.15 240.53,505.23 240.05,504.3 239.55,503.38 239.04,502.45 238.53,501.52 238.04,500.6 237.59,499.68 237.18,498.75 236.81,497.83 236.45,496.9 236.11,495.98 235.8,495.05 235.52,494.12 235.27,493.2 235.05,492.27 234.88,491.35 234.75,490.89 234.67,490.43 234.62,489.96 234.6,489.5 234.61,489.04 234.65,488.58 234.71,488.11 234.78,487.65 234.87,486.96 234.97,486.26 235.1,485.57 235.25,484.88 235.43,484.18 235.64,483.49 235.89,482.79 236.18,482.1 236.52,481.41 236.9,480.71 237.32,480.02 237.78,479.33 238.26,478.63 238.76,477.94 239.27,477.24 239.78,476.55 240.34,475.76 240.97,474.98 241.63,474.19 242.31,473.4 242.95,472.62 243.53,471.83 244.02,471.05 244.38,470.26 251.18,470.26 251.54,471.05 252.03,471.83 252.61,472.62 253.25,473.4 253.93,474.19 254.59,474.98 255.22,475.76 255.78,476.55 256.29,477.24 256.8,477.94 257.3,478.63 257.78,479.33 258.24,480.02 258.66,480.71 259.04,481.41 259.38,482.1 259.67,482.79 259.92,483.49 260.13,484.18 260.31,484.88 260.46,485.57 260.59,486.26 260.69,486.96 260.78,487.65 260.85,488.11 260.91,488.58 260.95,489.04 260.96,489.5 260.94,489.96 260.89,490.43 260.81,490.89 260.68,491.35 260.51,492.27 260.29,493.2 260.04,494.12 259.76,495.05 259.45,495.98 259.11,496.9 258.75,497.83 258.38,498.75 257.97,499.68 257.52,500.6 257.03,501.52 256.52,502.45 256.01,503.38 255.51,504.3 255.03,505.23 254.58,506.15 254.16,507.08 253.76,508 253.37,508.93 252.99,509.85 252.63,510.77 252.27,511.7 251.92,512.62 251.58,513.55 251.24,514.71 250.91,515.86 250.58,517.02 250.26,518.18 249.96,519.33 249.67,520.49 249.41,521.64 249.18,522.8 248.97,523.73 248.79,524.65 248.63,525.58 248.49,526.5 248.37,527.43 248.26,528.35 248.17,529.27 248.08,530.2 248.01,531.93 247.96,533.67 247.93,535.4 247.91,537.14 247.9,538.87 247.89,540.61 247.89,542.34 247.88,544.08" fill="#1f77b4" fill-opacity="0.3"/>
<path d="M39.5 591.62V640.2M33 591.62H46M33 640.2H46" stroke="#1f77b4" stroke-width="1.15" fill="none" stroke-opacity="0.68"/>
<path d="M91.57 580.15V640.2M85.07 580.15H98.07M85.07 640.2H98.07" stroke="#1f77b4" stroke-width="1.15" fill="none" stroke-opacity="0.68"/>
<path d="M143.64 598.65V640.2M137.14 598.65H150.14M137.14 640.2H150.14" stroke="#1f77b4" stroke-width="1.15" fill="none" stroke-opacity="0.68"/>
<path d="M195.71 493.2V587.55M189.21 493.2H202.21M189.21 587.55H202.21" stroke="#1f77b4" stroke-width="1.15" fill="none" stroke-opacity="0.68"/>
<path d="M247.78 470.26V544.08M241.28 470.26H254.28M241.28 544.08H254.28" stroke="#1f77b4" stroke-width="1.15" fill="none" stroke-opacity="0.68"/>
<path d="M293.35 640.2H306.35" stroke="#1f77b4" stroke-width="1.15" fill="none" stroke-opacity="0.68"/>
<path d="M39.5 640.2V591.62M38.5 640.2h2M38.5 591.62h2" stroke="#000" stroke-width="0.55" stroke-opacity="0.75" fill="none"/>
<rect x="36.7" y="610.12" width="5.6" height="26.43" fill="#000"/>
<circle cx="39.5" cy="624" r="1.35" fill="#fff"/>
<path d="M91.57 640.2V580.15M90.57 640.2h2M90.57 580.15h2" stroke="#000" stroke-width="0.55" stroke-opacity="0.75" fill="none"/>
<rect x="88.77" y="596.8" width="5.6" height="21.83" fill="#000"/>
<circle cx="91.57" cy="606.05" r="1.35" fill="#fff"/>
<circle cx="143.64" cy="640.2" r="1.7" fill="#fff" stroke="#000" stroke-width="1.05"/>
<path d="M195.71 587.55V493.2M194.71 587.55h2M194.71 493.2h2" stroke="#000" stroke-width="0.55" stroke-opacity="0.75" fill="none"/>
<rect x="192.91" y="519.65" width="5.6" height="33.67" fill="#000"/>
<circle cx="195.71" cy="537.05" r="1.35" fill="#fff"/>
<path d="M247.78 519.65V470.26M246.78 519.65h2M246.78 470.26h2" stroke="#000" stroke-width="0.55" stroke-opacity="0.75" fill="none"/>
<rect x="244.98" y="483.95" width="5.6" height="16.09" fill="#000"/>
<circle cx="247.78" cy="493.2" r="1.35" fill="#fff"/>
<circle cx="299.85" cy="640.2" r="1.7" fill="#fff" stroke="#000" stroke-width="1.05"/>
<rect x="13.5" y="462.1" width="313" height="186.3" fill="none" stroke="#333333" stroke-width="0.7"/>
<path d="M13.5 640.2h-2M13.5 602.94h-2M13.5 565.68h-2M13.5 528.42h-2M13.5 491.16h-2M39.5 648.4v2M91.57 648.4v2M143.64 648.4v2M195.71 648.4v2M247.78 648.4v2M299.85 648.4v2" stroke="#222" stroke-width="0.75" fill="none"/>
<g transform="translate(6.48 642.2) scale(0.1)"><text x="0" y="0" font-family="'Liberation Sans', sans-serif" font-size="60" textLength="28.2" lengthAdjust="spacingAndGlyphs" fill="#111" stroke="#111" stroke-width="1.6">0</text></g>
<g transform="translate(6.48 604.94) scale(0.1)"><text x="0" y="0" font-family="'Liberation Sans', sans-serif" font-size="60" textLength="28.2" lengthAdjust="spacingAndGlyphs" fill="#111" stroke="#111" stroke-width="1.6">2</text></g>
<g transform="translate(6.48 567.68) scale(0.1)"><text x="0" y="0" font-family="'Liberation Sans', sans-serif" font-size="60" textLength="28.2" lengthAdjust="spacingAndGlyphs" fill="#111" stroke="#111" stroke-width="1.6">4</text></g>
<g transform="translate(6.48 530.42) scale(0.1)"><text x="0" y="0" font-family="'Liberation Sans', sans-serif" font-size="60" textLength="28.2" lengthAdjust="spacingAndGlyphs" fill="#111" stroke="#111" stroke-width="1.6">6</text></g>
<g transform="translate(6.48 493.16) scale(0.1)"><text x="0" y="0" font-family="'Liberation Sans', sans-serif" font-size="60" textLength="28.2" lengthAdjust="spacingAndGlyphs" fill="#111" stroke="#111" stroke-width="1.6">8</text></g>
<g transform="translate(36.68 656.5) scale(0.1)"><text x="0" y="0" font-family="'Liberation Sans', sans-serif" font-size="60" textLength="56.4" lengthAdjust="spacingAndGlyphs" fill="#111" stroke="#111" stroke-width="1.6">MA</text></g>
<g transform="translate(87.34 656.5) scale(0.1)"><text x="0" y="0" font-family="'Liberation Sans', sans-serif" font-size="60" textLength="84.6" lengthAdjust="spacingAndGlyphs" fill="#111" stroke="#111" stroke-width="1.6">PSO</text></g>
<g transform="translate(140.82 656.5) scale(0.1)"><text x="0" y="0" font-family="'Liberation Sans', sans-serif" font-size="60" textLength="56.4" lengthAdjust="spacingAndGlyphs" fill="#111" stroke="#111" stroke-width="1.6">GA</text></g>
<g transform="translate(192.89 656.5) scale(0.1)"><text x="0" y="0" font-family="'Liberation Sans', sans-serif" font-size="60" textLength="56.4" lengthAdjust="spacingAndGlyphs" fill="#111" stroke="#111" stroke-width="1.6">FA</text></g>
<g transform="translate(243.55 656.5) scale(0.1)"><text x="0" y="0" font-family="'Liberation Sans', sans-serif" font-size="60" textLength="84.6" lengthAdjust="spacingAndGlyphs" fill="#111" stroke="#111" stroke-width="1.6">SCA</text></g>
<g transform="translate(291.39 656.5) scale(0.1)"><text x="0" y="0" font-family="'Liberation Sans', sans-serif" font-size="60" textLength="169.2" lengthAdjust="spacingAndGlyphs" fill="#111" stroke="#111" stroke-width="1.6">HSI-MA</text></g>
<g transform="translate(3.9 555.25) rotate(-90)"><g transform="translate(-33.84 0) scale(0.1)"><text x="0" y="0" font-family="'Liberation Sans', sans-serif" font-size="60" textLength="676.8" lengthAdjust="spacingAndGlyphs" fill="#111" stroke="#111" stroke-width="1.6">Objective Function Value</text></g></g>
<text x="173.1" y="673.1" text-anchor="middle" font-family="'Liberation Serif', serif" font-weight="bold" font-size="14.6" fill="#111">(e)</text>
</g>
<g>
<polygon points="386.8,638.64 386.51,638.42 386.11,638.21 385.63,637.99 385.11,637.78 384.58,637.56 384.08,637.34 383.64,637.13 383.3,636.91 383.04,636.48 382.82,636.05 382.64,635.62 382.49,635.18 382.39,634.75 382.32,634.32 382.29,633.89 382.3,633.45 382.35,632.91 382.46,632.37 382.61,631.83 382.8,631.28 383.01,630.74 383.24,630.19 383.47,629.63 383.7,629.08 383.95,628.42 384.23,627.75 384.54,627.09 384.85,626.43 385.16,625.76 385.44,625.1 385.7,624.43 385.9,623.77 386.06,623.22 386.2,622.66 386.3,622.11 386.39,621.56 386.45,621 386.49,620.45 386.5,619.9 386.5,619.35 386.46,618.68 386.39,618.02 386.28,617.35 386.16,616.69 386.03,616.03 385.9,615.36 385.79,614.7 385.7,614.04 385.62,613.37 385.53,612.71 385.43,612.04 385.35,611.38 385.29,610.72 385.25,610.05 385.25,609.39 385.3,608.73 385.39,608.06 385.53,607.4 385.69,606.73 385.89,606.07 386.11,605.41 386.35,604.74 386.62,604.08 386.9,603.42 387.21,602.75 387.57,602.09 387.97,601.42 388.38,600.76 388.79,600.1 389.19,599.43 389.56,598.77 389.9,598.11 390.21,597.62 390.52,597.13 390.81,596.64 391.09,596.16 391.34,595.67 391.56,595.18 391.75,594.7 391.9,594.21 398.7,594.21 398.85,594.7 399.04,595.18 399.26,595.67 399.51,596.16 399.79,596.64 400.08,597.13 400.39,597.62 400.7,598.11 401.04,598.77 401.41,599.43 401.81,600.1 402.23,600.76 402.63,601.42 403.03,602.09 403.39,602.75 403.7,603.42 403.98,604.08 404.25,604.74 404.49,605.41 404.71,606.07 404.91,606.73 405.07,607.4 405.21,608.06 405.3,608.73 405.35,609.39 405.35,610.05 405.31,610.72 405.25,611.38 405.17,612.04 405.07,612.71 404.98,613.37 404.9,614.04 404.81,614.7 404.7,615.36 404.57,616.03 404.44,616.69 404.32,617.35 404.21,618.02 404.14,618.68 404.1,619.35 404.1,619.9 404.11,620.45 404.15,621 404.21,621.56 404.3,622.11 404.4,622.66 404.54,623.22 404.7,623.77 404.9,624.43 405.16,625.1 405.44,625.76 405.75,626.43 406.06,627.09 406.37,627.75 406.65,628.42 406.9,629.08 407.13,629.63 407.36,630.19 407.59,630.74 407.8,631.28 407.99,631.83 408.14,632.37 408.25,632.91 408.3,633.45 408.31,633.89 408.28,634.32 408.21,634.75 408.11,635.18 407.96,635.62 407.78,636.05 407.56,636.48 407.3,636.91 406.96,637.13 406.52,637.34 406.02,637.56 405.49,637.78 404.97,637.99 404.49,638.21 404.09,638.42 403.8,638.64" fill="#1f77b4" fill-opacity="0.3"/>
<polygon points="446.92,638.64 446.9,637.78 446.89,636.91 446.87,636.05 446.85,635.18 446.82,634.32 446.77,633.45 446.71,632.59 446.62,631.72 446.52,630.96 446.4,630.19 446.27,629.41 446.13,628.64 445.96,627.86 445.77,627.09 445.56,626.31 445.32,625.54 445.05,624.66 444.74,623.77 444.41,622.88 444.05,622 443.68,621.12 443.3,620.23 442.91,619.35 442.52,618.46 442.13,617.58 441.72,616.69 441.3,615.81 440.87,614.92 440.44,614.04 440,613.15 439.56,612.27 439.12,611.38 438.66,610.5 438.18,609.61 437.69,608.73 437.19,607.84 436.72,606.96 436.27,606.07 435.87,605.19 435.52,604.3 435.22,603.53 434.95,602.75 434.72,601.98 434.52,601.2 434.36,600.43 434.24,599.65 434.16,598.88 434.12,598.11 434.13,597.33 434.18,596.56 434.27,595.78 434.39,595.01 434.57,594.23 434.78,593.46 435.03,592.68 435.32,591.91 435.67,591.25 436.07,590.58 436.53,589.92 437.02,589.25 437.54,588.59 438.07,587.93 438.6,587.26 439.12,586.6 439.65,585.83 440.22,585.05 440.81,584.28 441.39,583.5 441.98,582.73 442.53,581.95 443.05,581.18 443.52,580.41 443.95,579.63 444.36,578.86 444.74,578.08 445.1,577.31 445.41,576.53 445.69,575.76 445.93,574.98 446.12,574.21 448.12,574.21 448.31,574.98 448.55,575.76 448.83,576.53 449.14,577.31 449.5,578.08 449.88,578.86 450.29,579.63 450.72,580.41 451.19,581.18 451.71,581.95 452.26,582.73 452.85,583.5 453.43,584.28 454.02,585.05 454.59,585.83 455.12,586.6 455.64,587.26 456.17,587.93 456.7,588.59 457.22,589.25 457.71,589.92 458.17,590.58 458.57,591.25 458.92,591.91 459.21,592.68 459.46,593.46 459.67,594.23 459.85,595.01 459.97,595.78 460.06,596.56 460.11,597.33 460.12,598.11 460.08,598.88 460,599.65 459.88,600.43 459.72,601.2 459.52,601.98 459.29,602.75 459.02,603.53 458.72,604.3 458.37,605.19 457.97,606.07 457.52,606.96 457.05,607.84 456.55,608.73 456.06,609.61 455.58,610.5 455.12,611.38 454.68,612.27 454.24,613.15 453.8,614.04 453.37,614.92 452.94,615.81 452.52,616.69 452.11,617.58 451.72,618.46 451.33,619.35 450.94,620.23 450.56,621.12 450.19,622 449.83,622.88 449.5,623.77 449.19,624.66 448.92,625.54 448.68,626.31 448.47,627.09 448.28,627.86 448.11,628.64 447.97,629.41 447.84,630.19 447.72,630.96 447.62,631.72 447.53,632.59 447.47,633.45 447.42,634.32 447.39,635.18 447.37,636.05 447.35,636.91 447.34,637.78 447.32,638.64" fill="#1f77b4" fill-opacity="0.3"/>
<polygon points="489.94,638.64 489.69,638.42 489.35,638.21 488.95,637.99 488.5,637.78 488.05,637.56 487.62,637.34 487.24,637.13 486.94,636.91 486.71,636.37 486.52,635.83 486.37,635.29 486.24,634.75 486.14,634.21 486.06,633.67 485.99,633.13 485.94,632.59 485.91,631.5 485.91,630.41 485.94,629.3 485.98,628.2 486.03,627.09 486.08,625.98 486.12,624.88 486.14,623.77 486.14,622.44 486.14,621.12 486.12,619.79 486.1,618.46 486.09,617.13 486.09,615.81 486.1,614.48 486.14,613.15 486.19,612.04 486.25,610.94 486.31,609.83 486.39,608.73 486.49,607.62 486.61,606.51 486.76,605.41 486.94,604.3 487.16,603.19 487.4,602.09 487.67,600.98 487.96,599.88 488.28,598.77 488.62,597.66 488.97,596.56 489.34,595.45 489.74,594.34 490.17,593.24 490.63,592.13 491.1,591.03 491.58,589.92 492.05,588.81 492.51,587.71 492.94,586.6 493.35,585.49 493.76,584.39 494.17,583.28 494.56,582.18 494.94,581.07 495.3,579.96 495.64,578.86 495.94,577.75 496.21,576.64 496.46,575.54 496.69,574.43 496.89,573.33 497.07,572.22 497.24,571.11 497.4,570.01 497.54,568.9 497.67,567.88 497.77,566.86 497.86,565.85 497.94,564.83 498,563.81 498.06,562.79 498.1,561.78 498.14,560.76 499.74,560.76 499.78,561.78 499.82,562.79 499.88,563.81 499.94,564.83 500.02,565.85 500.11,566.86 500.21,567.88 500.34,568.9 500.48,570.01 500.64,571.11 500.81,572.22 500.99,573.33 501.19,574.43 501.42,575.54 501.67,576.64 501.94,577.75 502.24,578.86 502.58,579.96 502.94,581.07 503.31,582.18 503.71,583.28 504.12,584.39 504.53,585.49 504.94,586.6 505.37,587.71 505.83,588.81 506.3,589.92 506.78,591.03 507.25,592.13 507.71,593.24 508.14,594.34 508.54,595.45 508.91,596.56 509.26,597.66 509.6,598.77 509.92,599.88 510.21,600.98 510.48,602.09 510.72,603.19 510.94,604.3 511.12,605.41 511.27,606.51 511.39,607.62 511.49,608.73 511.57,609.83 511.63,610.94 511.69,612.04 511.74,613.15 511.78,614.48 511.79,615.81 511.79,617.13 511.78,618.46 511.76,619.79 511.74,621.12 511.74,622.44 511.74,623.77 511.76,624.88 511.8,625.98 511.85,627.09 511.9,628.2 511.94,629.3 511.97,630.41 511.97,631.5 511.94,632.59 511.89,633.13 511.82,633.67 511.74,634.21 511.64,634.75 511.51,635.29 511.36,635.83 511.17,636.37 510.94,636.91 510.64,637.13 510.26,637.34 509.83,637.56 509.38,637.78 508.93,637.99 508.53,638.21 508.19,638.42 507.94,638.64" fill="#1f77b4" fill-opacity="0.3"/>
<polygon points="544.96,555.98 544.86,555.16 544.72,554.34 544.56,553.52 544.38,552.7 544.19,551.89 543.99,551.07 543.77,550.25 543.56,549.43 543.34,548.55 543.11,547.66 542.86,546.78 542.61,545.89 542.35,545.01 542.09,544.12 541.82,543.24 541.56,542.35 541.29,541.47 541.01,540.58 540.71,539.7 540.42,538.81 540.14,537.93 539.86,537.04 539.6,536.16 539.36,535.27 539.14,534.38 538.93,533.5 538.72,532.62 538.53,531.73 538.36,530.85 538.21,529.96 538.07,529.08 537.96,528.19 537.87,527.55 537.81,526.91 537.77,526.27 537.75,525.62 537.74,524.98 537.74,524.34 537.75,523.7 537.76,523.06 537.78,522.15 537.8,521.24 537.84,520.34 537.88,519.43 537.94,518.52 538,517.61 538.08,516.71 538.16,515.8 538.25,514.92 538.34,514.03 538.45,513.14 538.56,512.26 538.69,511.38 538.83,510.49 538.98,509.61 539.16,508.72 539.36,507.84 539.57,506.95 539.8,506.07 540.05,505.18 540.31,504.3 540.58,503.41 540.86,502.53 541.16,501.64 541.47,500.98 541.8,500.31 542.15,499.65 542.51,498.99 542.87,498.32 543.24,497.66 543.6,496.99 543.96,496.33 544.33,495.64 544.73,494.96 545.13,494.27 545.53,493.59 545.92,492.9 546.26,492.21 546.54,491.53 546.76,490.84 554.76,490.84 554.98,491.53 555.26,492.21 555.6,492.9 555.99,493.59 556.39,494.27 556.79,494.96 557.19,495.64 557.56,496.33 557.92,496.99 558.28,497.66 558.65,498.32 559.01,498.99 559.37,499.65 559.72,500.31 560.05,500.98 560.36,501.64 560.66,502.53 560.94,503.41 561.21,504.3 561.47,505.18 561.72,506.07 561.95,506.95 562.16,507.84 562.36,508.72 562.54,509.61 562.69,510.49 562.83,511.38 562.96,512.26 563.07,513.14 563.18,514.03 563.27,514.92 563.36,515.8 563.44,516.71 563.52,517.61 563.58,518.52 563.63,519.43 563.68,520.34 563.72,521.24 563.74,522.15 563.76,523.06 563.77,523.7 563.78,524.34 563.78,524.98 563.77,525.62 563.75,526.27 563.71,526.91 563.65,527.55 563.56,528.19 563.45,529.08 563.31,529.96 563.16,530.85 562.99,531.73 562.8,532.62 562.59,533.5 562.38,534.38 562.16,535.27 561.92,536.16 561.66,537.04 561.38,537.93 561.1,538.81 560.81,539.7 560.51,540.58 560.23,541.47 559.96,542.35 559.7,543.24 559.43,544.12 559.17,545.01 558.91,545.89 558.66,546.78 558.41,547.66 558.18,548.55 557.96,549.43 557.75,550.25 557.53,551.07 557.33,551.89 557.13,552.7 556.96,553.52 556.8,554.34 556.66,555.16 556.56,555.98" fill="#1f77b4" fill-opacity="0.3"/>
<polygon points="602.48,523.41 602.47,521.8 602.47,520.18 602.47,518.57 602.46,516.95 602.44,515.34 602.41,513.72 602.36,512.11 602.28,510.49 602.18,509.83 602.07,509.16 601.94,508.5 601.79,507.84 601.63,507.17 601.44,506.51 601.22,505.84 600.98,505.18 600.71,504.52 600.41,503.85 600.09,503.19 599.75,502.53 599.38,501.86 599,501.2 598.6,500.53 598.18,499.87 597.74,499.21 597.26,498.54 596.77,497.88 596.25,497.22 595.73,496.55 595.21,495.89 594.69,495.22 594.18,494.56 593.66,494.01 593.1,493.45 592.53,492.9 591.97,492.35 591.43,491.79 590.94,491.24 590.52,490.69 590.18,490.14 589.93,489.89 589.74,489.65 589.62,489.4 589.54,489.16 589.51,488.92 589.51,488.67 589.54,488.43 589.58,488.19 589.63,487.88 589.71,487.57 589.8,487.26 589.93,486.95 590.1,486.64 590.33,486.33 590.62,486.02 590.98,485.71 591.44,485.16 592.01,484.6 592.65,484.05 593.34,483.5 594.05,482.94 594.74,482.39 595.4,481.84 595.98,481.29 596.51,480.73 597.02,480.18 597.51,479.63 597.98,479.07 598.42,478.52 598.84,477.97 599.23,477.41 599.58,476.86 599.9,476.15 600.2,475.44 600.47,474.74 600.71,474.03 600.92,473.32 601.1,472.61 601.25,471.9 601.38,471.2 603.78,471.2 603.91,471.9 604.06,472.61 604.24,473.32 604.46,474.03 604.69,474.74 604.96,475.44 605.26,476.15 605.58,476.86 605.93,477.41 606.32,477.97 606.74,478.52 607.18,479.07 607.65,479.63 608.14,480.18 608.65,480.73 609.18,481.29 609.76,481.84 610.42,482.39 611.11,482.94 611.82,483.5 612.51,484.05 613.15,484.6 613.72,485.16 614.18,485.71 614.54,486.02 614.83,486.33 615.06,486.64 615.23,486.95 615.36,487.26 615.46,487.57 615.53,487.88 615.58,488.19 615.62,488.43 615.65,488.67 615.65,488.92 615.62,489.16 615.54,489.4 615.42,489.65 615.23,489.89 614.98,490.14 614.64,490.69 614.22,491.24 613.73,491.79 613.19,492.35 612.63,492.9 612.06,493.45 611.5,494.01 610.98,494.56 610.47,495.22 609.95,495.89 609.43,496.55 608.91,497.22 608.39,497.88 607.9,498.54 607.42,499.21 606.98,499.87 606.56,500.53 606.16,501.2 605.78,501.86 605.41,502.53 605.07,503.19 604.75,503.85 604.45,504.52 604.18,505.18 603.94,505.84 603.72,506.51 603.53,507.17 603.37,507.84 603.22,508.5 603.09,509.16 602.98,509.83 602.88,510.49 602.8,512.11 602.75,513.72 602.72,515.34 602.7,516.95 602.69,518.57 602.69,520.18 602.69,521.8 602.68,523.41" fill="#1f77b4" fill-opacity="0.3"/>
<polygon points="641.4,639.5 641.87,639.44 642.5,639.37 643.25,639.31 644.09,639.24 644.96,639.18 645.83,639.11 646.66,639.05 647.4,638.98 648.1,638.9 648.8,638.81 649.5,638.72 650.18,638.64 650.82,638.55 651.41,638.47 651.94,638.38 652.4,638.29 652.77,638.12 653.07,637.95 653.31,637.78 653.5,637.6 653.65,637.43 653.78,637.26 653.89,637.09 654,636.91 654.09,634.3 654.15,631.67 654.19,629.01 654.2,626.34 654.2,623.66 654.2,620.98 654.19,618.31 654.2,615.63 654.6,615.63 654.61,618.31 654.6,620.98 654.6,623.66 654.6,626.34 654.61,629.01 654.65,631.67 654.71,634.3 654.8,636.91 654.91,637.09 655.02,637.26 655.15,637.43 655.3,637.6 655.49,637.78 655.73,637.95 656.03,638.12 656.4,638.29 656.86,638.38 657.39,638.47 657.98,638.55 658.63,638.64 659.3,638.72 660,638.81 660.7,638.9 661.4,638.98 662.14,639.05 662.97,639.11 663.84,639.18 664.71,639.24 665.55,639.31 666.3,639.37 666.93,639.44 667.4,639.5" fill="#1f77b4" fill-opacity="0.3"/>
<path d="M395.3 594.21V638.64M388.8 594.21H401.8M388.8 638.64H401.8" stroke="#1f77b4" stroke-width="1.15" fill="none" stroke-opacity="0.85"/>
<path d="M447.12 574.21V638.64M440.62 574.21H453.62M440.62 638.64H453.62" stroke="#1f77b4" stroke-width="1.15" fill="none" stroke-opacity="0.85"/>
<path d="M498.94 560.76V638.64M492.44 560.76H505.44M492.44 638.64H505.44" stroke="#1f77b4" stroke-width="1.15" fill="none" stroke-opacity="0.85"/>
<path d="M550.76 490.84V555.98M544.26 490.84H557.26M544.26 555.98H557.26" stroke="#1f77b4" stroke-width="1.15" fill="none" stroke-opacity="0.85"/>
<path d="M602.58 471.2V523.41M596.08 471.2H609.08M596.08 523.41H609.08" stroke="#1f77b4" stroke-width="1.15" fill="none" stroke-opacity="0.85"/>
<path d="M654.4 615.63V639.5M647.9 615.63H660.9M647.9 639.5H660.9" stroke="#1f77b4" stroke-width="1.15" fill="none" stroke-opacity="0.85"/>
<path d="M395.3 638.64V594.21M394.3 638.64h2M394.3 594.21h2" stroke="#000" stroke-width="0.55" stroke-opacity="0.75" fill="none"/>
<rect x="392.5" y="609.96" width="5.6" height="24.35" fill="#000"/>
<circle cx="395.3" cy="622.71" r="1.35" fill="#fff"/>
<path d="M447.12 631.37V574.21M446.12 631.37h2M446.12 574.21h2" stroke="#000" stroke-width="0.55" stroke-opacity="0.75" fill="none"/>
<rect x="444.32" y="592.44" width="5.6" height="16.82" fill="#000"/>
<circle cx="447.12" cy="598.64" r="1.35" fill="#fff"/>
<path d="M498.94 638.64V560.76M497.94 638.64h2M497.94 560.76h2" stroke="#000" stroke-width="0.55" stroke-opacity="0.75" fill="none"/>
<rect x="496.14" y="599.88" width="5.6" height="34.44" fill="#000"/>
<circle cx="498.94" cy="614.39" r="1.35" fill="#fff"/>
<path d="M550.76 555.98V490.84M549.76 555.98h2M549.76 490.84h2" stroke="#000" stroke-width="0.55" stroke-opacity="0.75" fill="none"/>
<rect x="547.96" y="510.84" width="5.6" height="25.84" fill="#000"/>
<circle cx="550.76" cy="524.3" r="1.35" fill="#fff"/>
<path d="M602.58 504.47V473.32M601.58 504.47h2M601.58 473.32h2" stroke="#000" stroke-width="0.55" stroke-opacity="0.75" fill="none"/>
<rect x="599.78" y="484.83" width="5.6" height="8.85" fill="#000"/>
<circle cx="602.58" cy="488.72" r="1.35" fill="#fff"/>
<circle cx="654.4" cy="639.5" r="1.7" fill="#fff" stroke="#000" stroke-width="1.05"/>
<rect x="369.4" y="462.7" width="311" height="185.2" fill="none" stroke="#333333" stroke-width="0.7"/>
<path d="M369.4 639.5h-2M369.4 604.24h-2M369.4 568.98h-2M369.4 533.72h-2M369.4 498.46h-2M369.4 463.2h-2M395.3 647.9v2M447.12 647.9v2M498.94 647.9v2M550.76 647.9v2M602.58 647.9v2M654.4 647.9v2" stroke="#222" stroke-width="0.75" fill="none"/>
<g transform="translate(362.38 641.5) scale(0.1)"><text x="0" y="0" font-family="'Liberation Sans', sans-serif" font-size="60" textLength="28.2" lengthAdjust="spacingAndGlyphs" fill="#111" stroke="#111" stroke-width="1.6">0</text></g>
<g transform="translate(362.38 606.24) scale(0.1)"><text x="0" y="0" font-family="'Liberation Sans', sans-serif" font-size="60" textLength="28.2" lengthAdjust="spacingAndGlyphs" fill="#111" stroke="#111" stroke-width="1.6">2</text></g>
<g transform="translate(362.38 570.98) scale(0.1)"><text x="0" y="0" font-family="'Liberation Sans', sans-serif" font-size="60" textLength="28.2" lengthAdjust="spacingAndGlyphs" fill="#111" stroke="#111" stroke-width="1.6">4</text></g>
<g transform="translate(362.38 535.72) scale(0.1)"><text x="0" y="0" font-family="'Liberation Sans', sans-serif" font-size="60" textLength="28.2" lengthAdjust="spacingAndGlyphs" fill="#111" stroke="#111" stroke-width="1.6">6</text></g>
<g transform="translate(362.38 500.46) scale(0.1)"><text x="0" y="0" font-family="'Liberation Sans', sans-serif" font-size="60" textLength="28.2" lengthAdjust="spacingAndGlyphs" fill="#111" stroke="#111" stroke-width="1.6">8</text></g>
<g transform="translate(359.56 465.2) scale(0.1)"><text x="0" y="0" font-family="'Liberation Sans', sans-serif" font-size="60" textLength="56.4" lengthAdjust="spacingAndGlyphs" fill="#111" stroke="#111" stroke-width="1.6">10</text></g>
<g transform="translate(392.48 656) scale(0.1)"><text x="0" y="0" font-family="'Liberation Sans', sans-serif" font-size="60" textLength="56.4" lengthAdjust="spacingAndGlyphs" fill="#111" stroke="#111" stroke-width="1.6">MA</text></g>
<g transform="translate(442.89 656) scale(0.1)"><text x="0" y="0" font-family="'Liberation Sans', sans-serif" font-size="60" textLength="84.6" lengthAdjust="spacingAndGlyphs" fill="#111" stroke="#111" stroke-width="1.6">PSO</text></g>
<g transform="translate(496.12 656) scale(0.1)"><text x="0" y="0" font-family="'Liberation Sans', sans-serif" font-size="60" textLength="56.4" lengthAdjust="spacingAndGlyphs" fill="#111" stroke="#111" stroke-width="1.6">GA</text></g>
<g transform="translate(547.94 656) scale(0.1)"><text x="0" y="0" font-family="'Liberation Sans', sans-serif" font-size="60" textLength="56.4" lengthAdjust="spacingAndGlyphs" fill="#111" stroke="#111" stroke-width="1.6">FA</text></g>
<g transform="translate(598.35 656) scale(0.1)"><text x="0" y="0" font-family="'Liberation Sans', sans-serif" font-size="60" textLength="84.6" lengthAdjust="spacingAndGlyphs" fill="#111" stroke="#111" stroke-width="1.6">SCA</text></g>
<g transform="translate(645.94 656) scale(0.1)"><text x="0" y="0" font-family="'Liberation Sans', sans-serif" font-size="60" textLength="169.2" lengthAdjust="spacingAndGlyphs" fill="#111" stroke="#111" stroke-width="1.6">HSI-MA</text></g>
<g transform="translate(358 555.3) rotate(-90)"><g transform="translate(-33.84 0) scale(0.1)"><text x="0" y="0" font-family="'Liberation Sans', sans-serif" font-size="60" textLength="676.8" lengthAdjust="spacingAndGlyphs" fill="#111" stroke="#111" stroke-width="1.6">Objective Function Value</text></g></g>
<text x="528.3" y="672.8" text-anchor="middle" font-family="'Liberation Serif', serif" font-weight="bold" font-size="14.6" fill="#111">(f)</text>
</g>
<g>
<polygon points="217.7,866.64 217.37,866.41 216.91,866.18 216.37,865.95 215.77,865.72 215.16,865.49 214.57,865.26 214.04,865.03 213.6,864.8 213.23,864.27 212.89,863.74 212.58,863.21 212.31,862.68 212.07,862.16 211.87,861.63 211.71,861.1 211.6,860.57 211.56,859.8 211.61,859.06 211.72,858.31 211.86,857.56 212.01,856.81 212.13,856.06 212.2,855.32 212.2,854.57 212.12,853.84 212,853.12 211.83,852.39 211.64,851.66 211.43,850.94 211.21,850.21 211,849.49 210.8,848.76 210.6,847.88 210.37,847 210.13,846.12 209.89,845.24 209.66,844.36 209.46,843.48 209.31,842.6 209.2,841.72 209.13,841.21 209.09,840.71 209.07,840.2 209.09,839.7 209.14,839.19 209.24,838.68 209.39,838.18 209.6,837.67 209.87,837.19 210.21,836.7 210.6,836.22 211.04,835.74 211.51,835.25 212,834.77 212.5,834.28 213,833.8 213.54,833.23 214.13,832.66 214.75,832.08 215.39,831.51 216.01,830.94 216.6,830.37 217.14,829.8 217.6,829.22 217.99,828.89 218.33,828.56 218.63,828.23 218.89,827.9 219.11,827.57 219.3,827.24 219.46,826.91 219.6,826.58 224.8,826.58 224.94,826.91 225.1,827.24 225.29,827.57 225.51,827.9 225.77,828.23 226.07,828.56 226.41,828.89 226.8,829.22 227.26,829.8 227.8,830.37 228.39,830.94 229.01,831.51 229.65,832.08 230.27,832.66 230.86,833.23 231.4,833.8 231.9,834.28 232.4,834.77 232.89,835.25 233.36,835.74 233.8,836.22 234.19,836.7 234.53,837.19 234.8,837.67 235.01,838.18 235.16,838.68 235.26,839.19 235.31,839.7 235.33,840.2 235.31,840.71 235.27,841.21 235.2,841.72 235.09,842.6 234.94,843.48 234.74,844.36 234.51,845.24 234.27,846.12 234.03,847 233.8,847.88 233.6,848.76 233.4,849.49 233.19,850.21 232.97,850.94 232.76,851.66 232.57,852.39 232.4,853.12 232.28,853.84 232.2,854.57 232.2,855.32 232.27,856.06 232.39,856.81 232.54,857.56 232.68,858.31 232.79,859.06 232.84,859.8 232.8,860.57 232.69,861.1 232.53,861.63 232.33,862.16 232.09,862.68 231.82,863.21 231.51,863.74 231.17,864.27 230.8,864.8 230.36,865.03 229.83,865.26 229.24,865.49 228.62,865.72 228.03,865.95 227.49,866.18 227.03,866.41 226.7,866.64" fill="#1f77b4" fill-opacity="0.3"/>
<polygon points="273.74,854.22 273.74,852.87 273.74,851.53 273.74,850.19 273.74,848.85 273.73,847.51 273.72,846.16 273.69,844.82 273.64,843.48 273.58,843.15 273.52,842.82 273.44,842.49 273.36,842.16 273.26,841.83 273.14,841.5 273,841.17 272.84,840.84 272.67,840.53 272.49,840.22 272.29,839.92 272.08,839.61 271.83,839.3 271.55,838.99 271.22,838.68 270.84,838.38 270.39,837.83 269.87,837.28 269.3,836.73 268.69,836.18 268.06,835.63 267.44,835.08 266.82,834.53 266.24,833.98 265.66,833.43 265.05,832.88 264.43,832.33 263.81,831.78 263.23,831.23 262.7,830.68 262.23,830.13 261.84,829.58 261.53,829.07 261.29,828.56 261.09,828.06 260.95,827.55 260.86,827.05 260.81,826.54 260.81,826.03 260.84,825.53 260.91,824.93 261.04,824.34 261.2,823.75 261.41,823.15 261.67,822.56 261.96,821.96 262.28,821.37 262.64,820.78 263.05,820.25 263.52,819.72 264.04,819.19 264.59,818.66 265.16,818.14 265.73,817.61 266.3,817.08 266.84,816.55 267.38,815.96 267.94,815.36 268.51,814.77 269.08,814.18 269.63,813.58 270.14,812.99 270.62,812.39 271.04,811.8 271.4,811.25 271.73,810.7 272.01,810.15 272.26,809.6 272.48,809.05 272.68,808.5 272.87,807.95 273.04,807.4 273.19,806.39 273.32,805.38 273.43,804.36 273.51,803.35 273.59,802.34 273.64,801.33 273.69,800.32 273.74,799.3 273.94,799.3 273.99,800.32 274.04,801.33 274.09,802.34 274.16,803.35 274.25,804.36 274.36,805.38 274.49,806.39 274.64,807.4 274.81,807.95 275,808.5 275.2,809.05 275.42,809.6 275.67,810.15 275.95,810.7 276.28,811.25 276.64,811.8 277.06,812.39 277.54,812.99 278.05,813.58 278.6,814.18 279.17,814.77 279.74,815.36 280.3,815.96 280.84,816.55 281.38,817.08 281.95,817.61 282.52,818.14 283.09,818.66 283.64,819.19 284.16,819.72 284.63,820.25 285.04,820.78 285.4,821.37 285.72,821.96 286.01,822.56 286.26,823.15 286.48,823.75 286.64,824.34 286.77,824.93 286.84,825.53 286.87,826.03 286.87,826.54 286.82,827.05 286.73,827.55 286.59,828.06 286.39,828.56 286.15,829.07 285.84,829.58 285.45,830.13 284.98,830.68 284.45,831.23 283.86,831.78 283.25,832.33 282.63,832.88 282.02,833.43 281.44,833.98 280.86,834.53 280.24,835.08 279.62,835.63 278.99,836.18 278.38,836.73 277.81,837.28 277.29,837.83 276.84,838.38 276.46,838.68 276.13,838.99 275.85,839.3 275.6,839.61 275.39,839.92 275.19,840.22 275.01,840.53 274.84,840.84 274.68,841.17 274.54,841.5 274.42,841.83 274.32,842.16 274.24,842.49 274.16,842.82 274.1,843.15 274.04,843.48 273.99,844.82 273.96,846.16 273.95,847.51 273.94,848.85 273.94,850.19 273.94,851.53 273.94,852.87 273.94,854.22" fill="#1f77b4" fill-opacity="0.3"/>
<polygon points="325.08,849.29 325,848.23 324.9,847.18 324.78,846.12 324.64,845.06 324.49,844.01 324.31,842.95 324.11,841.9 323.88,840.84 323.63,839.74 323.35,838.64 323.04,837.54 322.72,836.44 322.38,835.34 322.02,834.24 321.65,833.14 321.28,832.04 320.9,830.94 320.5,829.84 320.08,828.74 319.66,827.64 319.22,826.54 318.78,825.44 318.33,824.34 317.88,823.24 317.41,822.14 316.91,821.04 316.39,819.94 315.87,818.84 315.36,817.74 314.88,816.64 314.45,815.54 314.08,814.44 313.76,813.34 313.47,812.24 313.21,811.14 312.99,810.04 312.81,808.94 312.66,807.84 312.55,806.74 312.48,805.64 312.45,804.76 312.46,803.88 312.52,803 312.61,802.12 312.73,801.24 312.88,800.36 313.07,799.48 313.28,798.6 313.53,797.5 313.83,796.4 314.17,795.3 314.53,794.2 314.91,793.1 315.31,792 315.7,790.9 316.08,789.8 316.46,788.7 316.85,787.6 317.24,786.5 317.64,785.4 318.05,784.3 318.46,783.2 318.87,782.1 319.28,781 319.7,779.68 320.14,778.36 320.59,777.04 321.04,775.72 321.48,774.4 321.91,773.08 322.31,771.76 322.68,770.44 323.03,769.12 323.37,767.8 323.69,766.48 323.99,765.16 324.27,763.84 324.51,762.52 324.72,761.2 324.88,759.88 326.08,759.88 326.24,761.2 326.45,762.52 326.69,763.84 326.97,765.16 327.27,766.48 327.59,767.8 327.93,769.12 328.28,770.44 328.65,771.76 329.05,773.08 329.48,774.4 329.92,775.72 330.37,777.04 330.82,778.36 331.26,779.68 331.68,781 332.09,782.1 332.5,783.2 332.91,784.3 333.32,785.4 333.72,786.5 334.11,787.6 334.5,788.7 334.88,789.8 335.26,790.9 335.66,792 336.05,793.1 336.43,794.2 336.79,795.3 337.13,796.4 337.43,797.5 337.68,798.6 337.89,799.48 338.08,800.36 338.23,801.24 338.36,802.12 338.44,803 338.5,803.88 338.51,804.76 338.48,805.64 338.41,806.74 338.3,807.84 338.15,808.94 337.97,810.04 337.75,811.14 337.49,812.24 337.2,813.34 336.88,814.44 336.51,815.54 336.08,816.64 335.6,817.74 335.09,818.84 334.57,819.94 334.05,821.04 333.55,822.14 333.08,823.24 332.63,824.34 332.18,825.44 331.74,826.54 331.31,827.64 330.88,828.74 330.46,829.84 330.06,830.94 329.68,832.04 329.31,833.14 328.94,834.24 328.58,835.34 328.24,836.44 327.92,837.54 327.61,838.64 327.33,839.74 327.08,840.84 326.85,841.9 326.65,842.95 326.47,844.01 326.32,845.06 326.18,846.12 326.06,847.18 325.96,848.23 325.88,849.29" fill="#1f77b4" fill-opacity="0.3"/>
<polygon points="376.82,788.39 376.76,787.47 376.69,786.54 376.61,785.62 376.51,784.7 376.39,783.77 376.26,782.85 376.1,781.92 375.92,781 375.71,779.9 375.48,778.8 375.23,777.7 374.96,776.6 374.68,775.5 374.37,774.4 374.05,773.3 373.72,772.2 373.37,771.1 373,770 372.62,768.9 372.22,767.8 371.81,766.7 371.39,765.6 370.96,764.5 370.52,763.4 370.06,762.3 369.57,761.2 369.07,760.1 368.56,759 368.05,757.9 367.57,756.8 367.12,755.7 366.72,754.6 366.36,753.61 366.02,752.62 365.7,751.63 365.41,750.64 365.14,749.65 364.91,748.66 364.7,747.67 364.52,746.68 364.38,746.02 364.27,745.36 364.19,744.7 364.13,744.04 364.1,743.38 364.09,742.72 364.1,742.06 364.12,741.4 364.15,740.63 364.18,739.86 364.24,739.09 364.31,738.32 364.41,737.55 364.54,736.78 364.71,736.01 364.92,735.24 365.18,734.36 365.49,733.48 365.84,732.6 366.22,731.72 366.63,730.84 367.05,729.96 367.48,729.08 367.92,728.2 368.38,727.32 368.87,726.44 369.38,725.56 369.91,724.68 370.43,723.8 370.95,722.92 371.45,722.04 371.92,721.16 372.38,720.37 372.85,719.58 373.32,718.78 373.77,717.99 374.19,717.2 374.56,716.41 374.88,715.62 375.12,714.82 379.12,714.82 379.36,715.62 379.68,716.41 380.05,717.2 380.47,717.99 380.92,718.78 381.39,719.58 381.86,720.37 382.32,721.16 382.79,722.04 383.29,722.92 383.81,723.8 384.33,724.68 384.86,725.56 385.37,726.44 385.86,727.32 386.32,728.2 386.76,729.08 387.19,729.96 387.61,730.84 388.02,731.72 388.4,732.6 388.75,733.48 389.06,734.36 389.32,735.24 389.53,736.01 389.7,736.78 389.83,737.55 389.93,738.32 390,739.09 390.06,739.86 390.09,740.63 390.12,741.4 390.14,742.06 390.15,742.72 390.14,743.38 390.11,744.04 390.05,744.7 389.97,745.36 389.86,746.02 389.72,746.68 389.54,747.67 389.33,748.66 389.1,749.65 388.83,750.64 388.54,751.63 388.22,752.62 387.88,753.61 387.52,754.6 387.12,755.7 386.67,756.8 386.19,757.9 385.68,759 385.17,760.1 384.67,761.2 384.18,762.3 383.72,763.4 383.28,764.5 382.85,765.6 382.43,766.7 382.02,767.8 381.62,768.9 381.24,770 380.87,771.1 380.52,772.2 380.19,773.3 379.87,774.4 379.56,775.5 379.28,776.6 379.01,777.7 378.76,778.8 378.53,779.9 378.32,781 378.14,781.92 377.98,782.85 377.85,783.77 377.73,784.7 377.63,785.62 377.55,786.54 377.48,787.47 377.42,788.39" fill="#1f77b4" fill-opacity="0.3"/>
<polygon points="428.66,733.48 428.65,732.86 428.66,732.25 428.67,731.63 428.67,731.02 428.65,730.4 428.62,729.78 428.56,729.17 428.46,728.55 428.33,728.07 428.19,727.58 428.03,727.1 427.85,726.62 427.63,726.13 427.38,725.65 427.09,725.16 426.76,724.68 426.38,724.13 425.95,723.58 425.47,723.03 424.97,722.48 424.43,721.93 423.88,721.38 423.32,720.83 422.76,720.28 422.16,719.73 421.51,719.18 420.83,718.63 420.13,718.08 419.46,717.53 418.82,716.98 418.25,716.43 417.76,715.88 417.34,715.35 416.97,714.82 416.65,714.3 416.37,713.77 416.14,713.24 415.96,712.71 415.84,712.18 415.76,711.66 415.74,711.3 415.77,710.95 415.86,710.6 416,710.25 416.18,709.9 416.4,709.54 416.66,709.19 416.96,708.84 417.31,708.51 417.72,708.18 418.19,707.85 418.69,707.52 419.21,707.19 419.74,706.86 420.26,706.53 420.76,706.2 421.26,705.87 421.79,705.54 422.33,705.21 422.87,704.88 423.4,704.55 423.9,704.22 424.35,703.89 424.76,703.56 425.12,703.27 425.45,702.99 425.74,702.7 426.01,702.42 426.24,702.13 426.45,701.84 426.62,701.56 426.76,701.27 430.76,701.27 430.9,701.56 431.07,701.84 431.28,702.13 431.51,702.42 431.78,702.7 432.07,702.99 432.4,703.27 432.76,703.56 433.17,703.89 433.62,704.22 434.12,704.55 434.65,704.88 435.19,705.21 435.73,705.54 436.26,705.87 436.76,706.2 437.26,706.53 437.78,706.86 438.31,707.19 438.83,707.52 439.33,707.85 439.8,708.18 440.21,708.51 440.56,708.84 440.86,709.19 441.12,709.54 441.34,709.9 441.52,710.25 441.66,710.6 441.75,710.95 441.78,711.3 441.76,711.66 441.68,712.18 441.56,712.71 441.38,713.24 441.15,713.77 440.87,714.3 440.55,714.82 440.18,715.35 439.76,715.88 439.27,716.43 438.7,716.98 438.06,717.53 437.38,718.08 436.69,718.63 436.01,719.18 435.36,719.73 434.76,720.28 434.2,720.83 433.64,721.38 433.09,721.93 432.55,722.48 432.05,723.03 431.57,723.58 431.14,724.13 430.76,724.68 430.43,725.16 430.14,725.65 429.89,726.13 429.67,726.62 429.49,727.1 429.33,727.58 429.19,728.07 429.06,728.55 428.96,729.17 428.9,729.78 428.87,730.4 428.85,731.02 428.85,731.63 428.86,732.25 428.87,732.86 428.86,733.48" fill="#1f77b4" fill-opacity="0.3"/>
<polygon points="467.4,869.4 467.45,869.28 467.49,869.17 467.54,869.05 467.61,868.94 467.7,868.83 467.83,868.71 467.99,868.6 468.2,868.48 468.46,868.25 468.78,868.02 469.13,867.79 469.51,867.56 469.92,867.33 470.34,867.1 470.77,866.87 471.2,866.64 471.64,866.3 472.11,865.95 472.59,865.61 473.09,865.26 473.58,864.91 474.07,864.57 474.55,864.22 475,863.88 475.44,863.47 475.89,863.05 476.33,862.64 476.76,862.22 477.17,861.81 477.55,861.4 477.9,860.98 478.2,860.57 478.45,860.29 478.66,860.02 478.83,859.76 478.97,859.5 479.1,859.23 479.2,858.97 479.3,858.7 479.4,858.44 479.5,858.18 479.58,857.91 479.65,857.65 479.71,857.38 479.76,857.12 479.79,856.86 479.8,856.59 479.8,856.33 479.78,855.93 479.75,855.54 479.7,855.14 479.64,854.74 479.56,854.35 479.46,853.95 479.34,853.56 479.2,853.16 479.01,852.48 478.77,851.8 478.49,851.11 478.2,850.43 477.92,849.75 477.68,849.07 477.5,848.39 477.4,847.7 477.39,847.07 477.44,846.43 477.55,845.79 477.7,845.15 477.87,844.51 478.06,843.88 478.24,843.24 478.4,842.6 478.57,841.87 478.75,841.15 478.96,840.42 479.16,839.7 479.36,838.97 479.54,838.24 479.69,837.52 479.8,836.79 481,836.79 481.11,837.52 481.26,838.24 481.44,838.97 481.64,839.7 481.84,840.42 482.05,841.15 482.23,841.87 482.4,842.6 482.56,843.24 482.74,843.88 482.93,844.51 483.1,845.15 483.25,845.79 483.36,846.43 483.41,847.07 483.4,847.7 483.3,848.39 483.12,849.07 482.88,849.75 482.6,850.43 482.31,851.11 482.03,851.8 481.79,852.48 481.6,853.16 481.46,853.56 481.34,853.95 481.24,854.35 481.16,854.74 481.1,855.14 481.05,855.54 481.02,855.93 481,856.33 481,856.59 481.01,856.86 481.04,857.12 481.09,857.38 481.15,857.65 481.22,857.91 481.3,858.18 481.4,858.44 481.5,858.7 481.6,858.97 481.7,859.23 481.82,859.5 481.97,859.76 482.14,860.02 482.35,860.29 482.6,860.57 482.9,860.98 483.25,861.4 483.63,861.81 484.04,862.22 484.47,862.64 484.91,863.05 485.36,863.47 485.8,863.88 486.25,864.22 486.73,864.57 487.22,864.91 487.71,865.26 488.21,865.61 488.69,865.95 489.16,866.3 489.6,866.64 490.03,866.87 490.46,867.1 490.88,867.33 491.29,867.56 491.67,867.79 492.02,868.02 492.34,868.25 492.6,868.48 492.81,868.6 492.97,868.71 493.1,868.83 493.19,868.94 493.26,869.05 493.31,869.17 493.35,869.28 493.4,869.4" fill="#1f77b4" fill-opacity="0.3"/>
<path d="M222.2 826.58V866.64M215.7 826.58H228.7M215.7 866.64H228.7" stroke="#1f77b4" stroke-width="1.15" fill="none" stroke-opacity="0.9"/>
<path d="M273.84 799.3V854.22M267.34 799.3H280.34M267.34 854.22H280.34" stroke="#1f77b4" stroke-width="1.15" fill="none" stroke-opacity="0.9"/>
<path d="M325.48 759.88V849.29M318.98 759.88H331.98M318.98 849.29H331.98" stroke="#1f77b4" stroke-width="1.15" fill="none" stroke-opacity="0.9"/>
<path d="M377.12 714.82V788.39M370.62 714.82H383.62M370.62 788.39H383.62" stroke="#1f77b4" stroke-width="1.15" fill="none" stroke-opacity="0.9"/>
<path d="M428.76 701.27V733.48M422.26 701.27H435.26M422.26 733.48H435.26" stroke="#1f77b4" stroke-width="1.15" fill="none" stroke-opacity="0.9"/>
<path d="M480.4 836.79V869.4M473.9 836.79H486.9M473.9 869.4H486.9" stroke="#1f77b4" stroke-width="1.15" fill="none" stroke-opacity="0.9"/>
<path d="M222.2 866.64V826.58M221.2 866.64h2M221.2 826.58h2" stroke="#000" stroke-width="0.55" stroke-opacity="0.75" fill="none"/>
<rect x="219.4" y="839.26" width="5.6" height="19.36" fill="#000"/>
<circle cx="222.2" cy="846.65" r="1.35" fill="#fff"/>
<path d="M273.84 839.43V808.46M272.84 839.43h2M272.84 808.46h2" stroke="#000" stroke-width="0.55" stroke-opacity="0.75" fill="none"/>
<rect x="271.04" y="820.95" width="5.6" height="8.62" fill="#000"/>
<circle cx="273.84" cy="825.7" r="1.35" fill="#fff"/>
<path d="M325.48 849.29V759.88M324.48 849.29h2M324.48 759.88h2" stroke="#000" stroke-width="0.55" stroke-opacity="0.75" fill="none"/>
<rect x="322.68" y="795.08" width="5.6" height="23.76" fill="#000"/>
<circle cx="325.48" cy="807.22" r="1.35" fill="#fff"/>
<path d="M377.12 782.76V714.82M376.12 782.76h2M376.12 714.82h2" stroke="#000" stroke-width="0.55" stroke-opacity="0.75" fill="none"/>
<rect x="374.32" y="733.66" width="5.6" height="21.47" fill="#000"/>
<circle cx="377.12" cy="744.22" r="1.35" fill="#fff"/>
<path d="M428.76 726.97V701.27M427.76 726.97h2M427.76 701.27h2" stroke="#000" stroke-width="0.55" stroke-opacity="0.75" fill="none"/>
<rect x="425.96" y="709.19" width="5.6" height="7.39" fill="#000"/>
<circle cx="428.76" cy="712.36" r="1.35" fill="#fff"/>
<circle cx="480.4" cy="869.4" r="1.7" fill="#fff" stroke="#000" stroke-width="1.05"/>
<rect x="196.6" y="692.7" width="310.1" height="184.8" fill="none" stroke="#333333" stroke-width="0.7"/>
<path d="M196.6 869.4h-2M196.6 834.2h-2M196.6 799h-2M196.6 763.8h-2M196.6 728.6h-2M196.6 693.4h-2M222.2 877.5v2M273.84 877.5v2M325.48 877.5v2M377.12 877.5v2M428.76 877.5v2M480.4 877.5v2" stroke="#222" stroke-width="0.75" fill="none"/>
<g transform="translate(189.58 871.4) scale(0.1)"><text x="0" y="0" font-family="'Liberation Sans', sans-serif" font-size="60" textLength="28.2" lengthAdjust="spacingAndGlyphs" fill="#111" stroke="#111" stroke-width="1.6">0</text></g>
<g transform="translate(189.58 836.2) scale(0.1)"><text x="0" y="0" font-family="'Liberation Sans', sans-serif" font-size="60" textLength="28.2" lengthAdjust="spacingAndGlyphs" fill="#111" stroke="#111" stroke-width="1.6">2</text></g>
<g transform="translate(189.58 801) scale(0.1)"><text x="0" y="0" font-family="'Liberation Sans', sans-serif" font-size="60" textLength="28.2" lengthAdjust="spacingAndGlyphs" fill="#111" stroke="#111" stroke-width="1.6">4</text></g>
<g transform="translate(189.58 765.8) scale(0.1)"><text x="0" y="0" font-family="'Liberation Sans', sans-serif" font-size="60" textLength="28.2" lengthAdjust="spacingAndGlyphs" fill="#111" stroke="#111" stroke-width="1.6">6</text></g>
<g transform="translate(189.58 730.6) scale(0.1)"><text x="0" y="0" font-family="'Liberation Sans', sans-serif" font-size="60" textLength="28.2" lengthAdjust="spacingAndGlyphs" fill="#111" stroke="#111" stroke-width="1.6">8</text></g>
<g transform="translate(186.76 695.4) scale(0.1)"><text x="0" y="0" font-family="'Liberation Sans', sans-serif" font-size="60" textLength="56.4" lengthAdjust="spacingAndGlyphs" fill="#111" stroke="#111" stroke-width="1.6">10</text></g>
<g transform="translate(219.38 885.6) scale(0.1)"><text x="0" y="0" font-family="'Liberation Sans', sans-serif" font-size="60" textLength="56.4" lengthAdjust="spacingAndGlyphs" fill="#111" stroke="#111" stroke-width="1.6">MA</text></g>
<g transform="translate(269.61 885.6) scale(0.1)"><text x="0" y="0" font-family="'Liberation Sans', sans-serif" font-size="60" textLength="84.6" lengthAdjust="spacingAndGlyphs" fill="#111" stroke="#111" stroke-width="1.6">PSO</text></g>
<g transform="translate(322.66 885.6) scale(0.1)"><text x="0" y="0" font-family="'Liberation Sans', sans-serif" font-size="60" textLength="56.4" lengthAdjust="spacingAndGlyphs" fill="#111" stroke="#111" stroke-width="1.6">GA</text></g>
<g transform="translate(374.3 885.6) scale(0.1)"><text x="0" y="0" font-family="'Liberation Sans', sans-serif" font-size="60" textLength="56.4" lengthAdjust="spacingAndGlyphs" fill="#111" stroke="#111" stroke-width="1.6">FA</text></g>
<g transform="translate(424.53 885.6) scale(0.1)"><text x="0" y="0" font-family="'Liberation Sans', sans-serif" font-size="60" textLength="84.6" lengthAdjust="spacingAndGlyphs" fill="#111" stroke="#111" stroke-width="1.6">SCA</text></g>
<g transform="translate(471.94 885.6) scale(0.1)"><text x="0" y="0" font-family="'Liberation Sans', sans-serif" font-size="60" textLength="169.2" lengthAdjust="spacingAndGlyphs" fill="#111" stroke="#111" stroke-width="1.6">HSI-MA</text></g>
<g transform="translate(185.2 785.1) rotate(-90)"><g transform="translate(-33.84 0) scale(0.1)"><text x="0" y="0" font-family="'Liberation Sans', sans-serif" font-size="60" textLength="676.8" lengthAdjust="spacingAndGlyphs" fill="#111" stroke="#111" stroke-width="1.6">Objective Function Value</text></g></g>
<text x="346.2" y="903.6" text-anchor="middle" font-family="'Liberation Serif', serif" font-weight="bold" font-size="14.6" fill="#111">(g)</text>
</g>
</svg>
</body></html>
